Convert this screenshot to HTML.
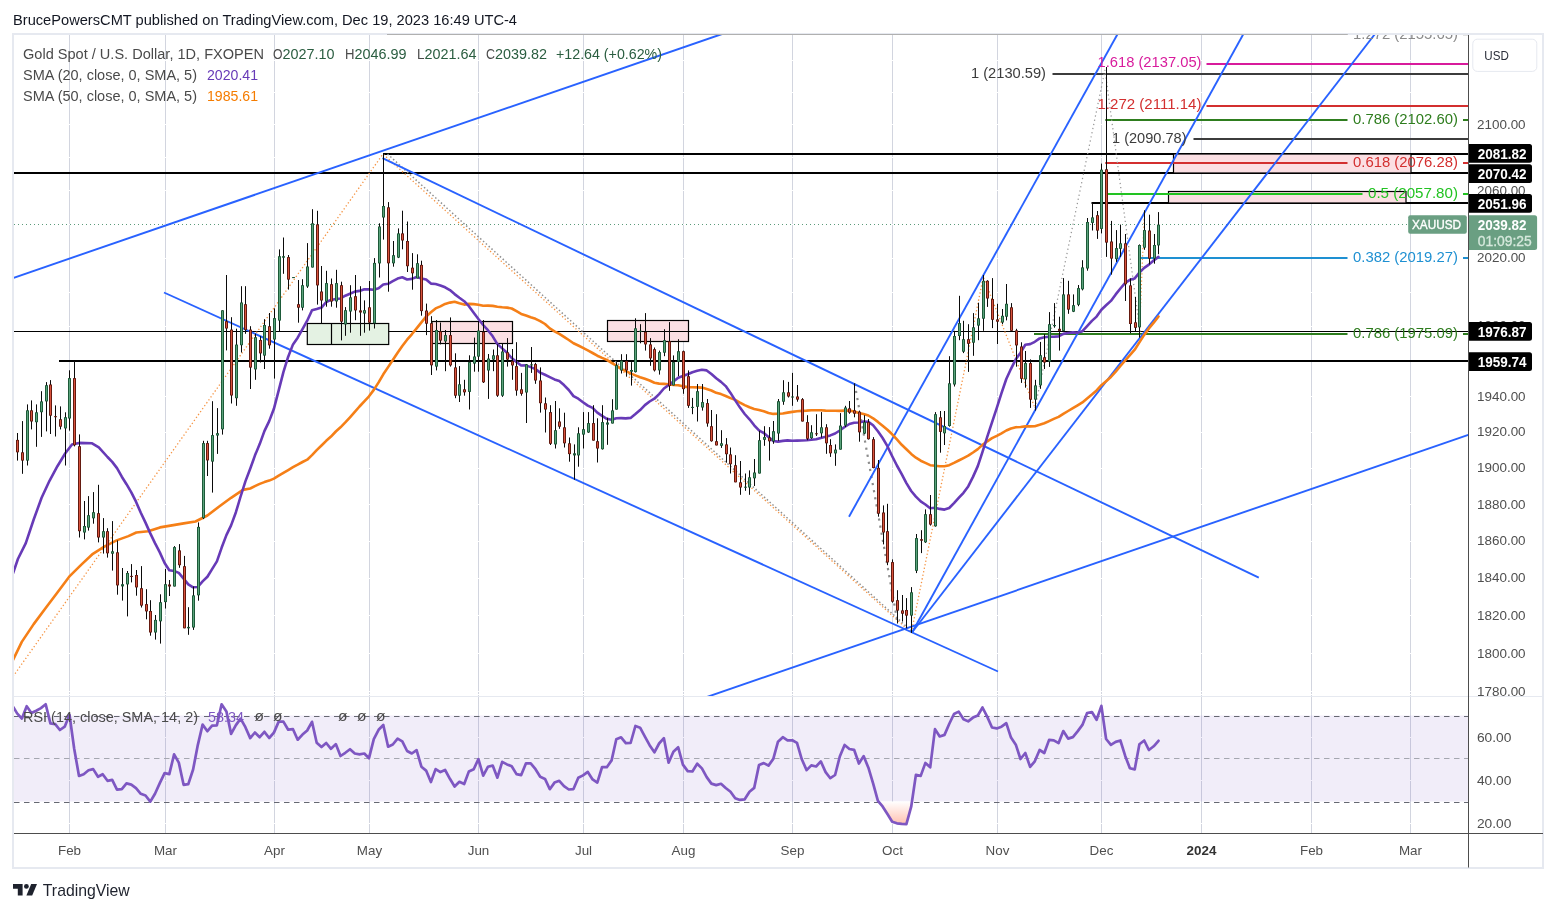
<!DOCTYPE html><html><head><meta charset="utf-8"><title>XAUUSD chart</title><style>html,body{margin:0;padding:0;background:#fff;}svg{will-change:transform;}body{width:1556px;height:912px;overflow:hidden;font-family:"Liberation Sans", sans-serif;}</style></head><body><svg width="1556" height="912" viewBox="0 0 1556 912" font-family='"Liberation Sans", sans-serif' style="display:block"><rect x="0" y="0" width="1556" height="912" fill="#ffffff"/>
<line x1="69.50" y1="35.00" x2="69.50" y2="833.00" stroke="#d2d5df" stroke-width="1" />
<line x1="165.50" y1="35.00" x2="165.50" y2="833.00" stroke="#d2d5df" stroke-width="1" />
<line x1="274.50" y1="35.00" x2="274.50" y2="833.00" stroke="#d2d5df" stroke-width="1" />
<line x1="369.50" y1="35.00" x2="369.50" y2="833.00" stroke="#d2d5df" stroke-width="1" />
<line x1="478.50" y1="35.00" x2="478.50" y2="833.00" stroke="#d2d5df" stroke-width="1" />
<line x1="583.50" y1="35.00" x2="583.50" y2="833.00" stroke="#d2d5df" stroke-width="1" />
<line x1="683.50" y1="35.00" x2="683.50" y2="833.00" stroke="#d2d5df" stroke-width="1" />
<line x1="792.50" y1="35.00" x2="792.50" y2="833.00" stroke="#d2d5df" stroke-width="1" />
<line x1="892.50" y1="35.00" x2="892.50" y2="833.00" stroke="#d2d5df" stroke-width="1" />
<line x1="997.50" y1="35.00" x2="997.50" y2="833.00" stroke="#d2d5df" stroke-width="1" />
<line x1="1101.50" y1="35.00" x2="1101.50" y2="833.00" stroke="#d2d5df" stroke-width="1" />
<line x1="1201.50" y1="35.00" x2="1201.50" y2="833.00" stroke="#d2d5df" stroke-width="1" />
<line x1="1311.50" y1="35.00" x2="1311.50" y2="833.00" stroke="#d2d5df" stroke-width="1" />
<line x1="1410.50" y1="35.00" x2="1410.50" y2="833.00" stroke="#d2d5df" stroke-width="1" />
<line x1="14.00" y1="691.50" x2="1468.00" y2="691.50" stroke="#ffffff" stroke-width="1" />
<line x1="14.00" y1="653.50" x2="1468.00" y2="653.50" stroke="#ffffff" stroke-width="1" />
<line x1="14.00" y1="615.50" x2="1468.00" y2="615.50" stroke="#ffffff" stroke-width="1" />
<line x1="14.00" y1="578.50" x2="1468.00" y2="578.50" stroke="#ffffff" stroke-width="1" />
<line x1="14.00" y1="541.50" x2="1468.00" y2="541.50" stroke="#ffffff" stroke-width="1" />
<line x1="14.00" y1="504.50" x2="1468.00" y2="504.50" stroke="#ffffff" stroke-width="1" />
<line x1="14.00" y1="468.50" x2="1468.00" y2="468.50" stroke="#ffffff" stroke-width="1" />
<line x1="14.00" y1="432.50" x2="1468.00" y2="432.50" stroke="#ffffff" stroke-width="1" />
<line x1="14.00" y1="396.50" x2="1468.00" y2="396.50" stroke="#ffffff" stroke-width="1" />
<line x1="14.00" y1="361.50" x2="1468.00" y2="361.50" stroke="#ffffff" stroke-width="1" />
<line x1="14.00" y1="326.50" x2="1468.00" y2="326.50" stroke="#ffffff" stroke-width="1" />
<line x1="14.00" y1="292.50" x2="1468.00" y2="292.50" stroke="#ffffff" stroke-width="1" />
<line x1="14.00" y1="258.50" x2="1468.00" y2="258.50" stroke="#ffffff" stroke-width="1" />
<line x1="14.00" y1="224.50" x2="1468.00" y2="224.50" stroke="#ffffff" stroke-width="1" />
<line x1="14.00" y1="190.50" x2="1468.00" y2="190.50" stroke="#ffffff" stroke-width="1" />
<line x1="14.00" y1="157.50" x2="1468.00" y2="157.50" stroke="#ffffff" stroke-width="1" />
<line x1="14.00" y1="124.50" x2="1468.00" y2="124.50" stroke="#ffffff" stroke-width="1" />
<line x1="14.00" y1="92.50" x2="1468.00" y2="92.50" stroke="#ffffff" stroke-width="1" />
<line x1="14.00" y1="60.50" x2="1468.00" y2="60.50" stroke="#ffffff" stroke-width="1" />
<line x1="14.00" y1="823.50" x2="1468.00" y2="823.50" stroke="#ffffff" stroke-width="1" />
<line x1="14.00" y1="780.50" x2="1468.00" y2="780.50" stroke="#ffffff" stroke-width="1" />
<line x1="14.00" y1="737.50" x2="1468.00" y2="737.50" stroke="#ffffff" stroke-width="1" />
<line x1="14.00" y1="694.50" x2="1468.00" y2="694.50" stroke="#ffffff" stroke-width="1" />
<rect x="14.00" y="715.50" width="1454.00" height="86.00" fill="rgba(126,87,194,0.105)" />
<defs><clipPath id="mainclip"><rect x="14" y="34" width="1455" height="662"/></clipPath><clipPath id="rsiclip"><rect x="14" y="697" width="1455" height="136"/></clipPath></defs>
<g clip-path="url(#mainclip)">
<line x1="14.00" y1="224.50" x2="1408.00" y2="224.50" stroke="#5b9a7a" stroke-width="1" stroke-dasharray="1 3"/>
<rect x="432.00" y="321.50" width="80.50" height="22.00" fill="#fbdfe3" stroke="#000" stroke-width="1.2" />
<rect x="607.50" y="320.50" width="81.00" height="21.00" fill="#fbdfe3" stroke="#000" stroke-width="1.2" />
<line x1="383.00" y1="154.00" x2="1468.00" y2="154.00" stroke="#000" stroke-width="1.8" />
<line x1="13.00" y1="173.00" x2="1468.00" y2="173.00" stroke="#000" stroke-width="2" />
<line x1="1091.50" y1="203.00" x2="1468.00" y2="203.00" stroke="#000" stroke-width="2" />
<line x1="13.00" y1="331.50" x2="1468.00" y2="331.50" stroke="#000" stroke-width="1.2" />
<line x1="59.00" y1="361.00" x2="1468.00" y2="361.00" stroke="#000" stroke-width="2.2" />
<rect x="1173.50" y="154.00" width="237.50" height="19.00" fill="#fbdfe3" stroke="#000" stroke-width="1.2" />
<rect x="1168.50" y="191.50" width="237.50" height="11.50" fill="#fbdfe3" stroke="#000" stroke-width="1.2" />
<rect x="307.30" y="323.50" width="81.40" height="21.00" fill="#e4f2e3" stroke="#000" stroke-width="1.2" />
<line x1="331.50" y1="323.50" x2="331.50" y2="344.50" stroke="#000" stroke-width="1.2" />
<line x1="1463.00" y1="34.50" x2="1468.00" y2="34.50" stroke="#8a8a8a" stroke-width="1.5" />
<line x1="1206.50" y1="64.00" x2="1468.00" y2="64.00" stroke="#d81b9c" stroke-width="2" />
<line x1="1052.50" y1="74.00" x2="1468.00" y2="74.00" stroke="#3c3c3c" stroke-width="2" />
<line x1="1206.50" y1="106.00" x2="1468.00" y2="106.00" stroke="#d32f2f" stroke-width="2" />
<line x1="1105.30" y1="120.00" x2="1347.50" y2="120.00" stroke="#2e7d1e" stroke-width="2" />
<line x1="1463.00" y1="120.00" x2="1468.00" y2="120.00" stroke="#2e7d1e" stroke-width="2" />
<line x1="1193.50" y1="139.00" x2="1468.00" y2="139.00" stroke="#3c3c3c" stroke-width="2" />
<line x1="1105.30" y1="163.00" x2="1347.50" y2="163.00" stroke="#d32f2f" stroke-width="2" />
<line x1="1463.00" y1="163.00" x2="1468.00" y2="163.00" stroke="#d32f2f" stroke-width="2" />
<line x1="1108.00" y1="194.00" x2="1362.50" y2="194.00" stroke="#22c322" stroke-width="2" />
<line x1="1463.00" y1="194.00" x2="1468.00" y2="194.00" stroke="#22c322" stroke-width="2" />
<line x1="1141.00" y1="258.00" x2="1347.50" y2="258.00" stroke="#1e90d2" stroke-width="2" />
<line x1="1463.00" y1="258.00" x2="1468.00" y2="258.00" stroke="#1e90d2" stroke-width="2" />
<line x1="1034.00" y1="334.00" x2="1347.50" y2="334.00" stroke="#2e7d1e" stroke-width="2" />
<line x1="1463.00" y1="334.00" x2="1468.00" y2="334.00" stroke="#2e7d1e" stroke-width="2" />
<path d="M13.0 676.5 L383.0 154.0 L911.3 632.8 L983.3 277.0 L1035.0 408.0" fill="none" stroke="#f59342" stroke-width="1.3" stroke-dasharray="1.3 2.3"/>
<path d="M387.5 154.0 L912.8 632.3" fill="none" stroke="#8f8f8f" stroke-width="1.5" stroke-dasharray="1.5 2.3"/>
<path d="M1035.0 408.0 L1105.0 70.0 L1140.5 335.0" fill="none" stroke="#979797" stroke-width="1.25" stroke-dasharray="1.25 3"/>
<path d="M1139.5 332.0 L1144.5 210.0" fill="none" stroke="#f59342" stroke-width="1.2" stroke-dasharray="1.2 2.4"/>
<path d="M854.7 383.8 L897.5 622.0" fill="none" stroke="#8c8c8c" stroke-width="2.2" stroke-dasharray="2.2 5"/>
<line x1="13.00" y1="278.00" x2="722.00" y2="34.00" stroke="#2962ff" stroke-width="1.9" />
<line x1="382.50" y1="158.20" x2="1258.80" y2="577.70" stroke="#2962ff" stroke-width="1.9" />
<line x1="164.00" y1="292.50" x2="998.00" y2="671.50" stroke="#2962ff" stroke-width="1.9" />
<line x1="704.00" y1="697.96" x2="1468.30" y2="434.90" stroke="#2962ff" stroke-width="1.9" />
<line x1="849.00" y1="516.70" x2="1117.60" y2="34.00" stroke="#2962ff" stroke-width="1.9" />
<line x1="912.30" y1="632.00" x2="1243.40" y2="34.00" stroke="#2962ff" stroke-width="1.9" />
<line x1="912.30" y1="632.00" x2="1375.00" y2="34.00" stroke="#2962ff" stroke-width="1.9" />
<path d="M13.2 659.6 L21.8 641.9 L33.7 624.1 L45.5 608.3 L57.4 592.5 L69.2 576.7 L81.1 564.9 L92.9 553.8 L104.7 546.3 L116.6 540.4 L128.4 536.1 L136.3 532.5 L148.2 531.3 L160.0 527.4 L171.9 525.4 L183.7 523.4 L195.5 521.5 L207.4 515.5 L219.2 506.5 L231.1 497.8 L242.9 489.9 L250.2 488.5 L254.9 486.1 L259.7 483.9 L264.4 482.1 L269.2 480.6 L273.9 478.6 L278.7 475.6 L283.4 472.9 L288.2 470.1 L293.0 467.2 L297.7 464.7 L302.5 462.0 L307.2 459.7 L312.0 455.1 L316.7 450.1 L321.5 445.5 L326.2 440.8 L331.0 436.6 L335.8 431.5 L340.5 427.3 L345.3 422.4 L350.0 417.3 L354.8 411.9 L359.5 406.5 L364.3 401.3 L369.0 396.3 L373.8 389.9 L378.6 382.4 L383.3 374.3 L388.1 367.1 L392.8 360.0 L397.6 352.7 L402.3 346.0 L407.1 339.7 L411.8 334.3 L416.6 328.4 L421.4 322.4 L426.1 316.6 L430.9 312.2 L435.6 308.4 L440.4 306.4 L445.1 303.9 L449.9 302.6 L454.6 301.8 L459.4 303.3 L464.2 304.6 L468.9 303.9 L473.7 304.1 L478.4 304.7 L483.2 305.7 L487.9 305.6 L492.7 305.9 L497.4 306.7 L502.2 307.3 L507.0 307.6 L511.7 308.5 L516.5 311.2 L521.2 313.9 L526.0 315.6 L530.7 317.3 L535.5 318.8 L540.2 321.1 L545.0 324.0 L549.8 328.4 L554.5 331.3 L559.3 333.8 L564.0 336.9 L568.8 340.0 L573.5 343.3 L578.3 345.5 L583.0 347.9 L587.8 350.4 L592.6 353.0 L597.3 355.7 L602.1 357.9 L606.8 359.9 L611.6 362.9 L616.3 365.7 L621.1 368.9 L625.8 371.1 L630.6 373.4 L635.4 375.4 L640.1 377.2 L644.9 378.8 L649.6 380.5 L654.4 382.7 L659.1 383.6 L663.9 383.9 L668.6 384.3 L673.4 385.0 L678.2 385.2 L682.9 386.3 L687.7 387.1 L692.4 387.3 L697.2 387.4 L701.9 387.6 L706.7 388.9 L711.4 390.5 L716.2 392.8 L721.0 394.1 L725.7 396.0 L730.5 398.1 L735.2 399.9 L740.0 402.6 L744.7 405.1 L749.5 407.3 L754.2 408.9 L759.0 409.9 L763.8 411.3 L768.5 412.9 L773.3 413.9 L778.0 413.8 L782.8 413.5 L787.5 412.6 L792.3 411.9 L797.0 411.3 L801.8 410.9 L806.6 410.6 L811.3 410.2 L816.1 410.2 L820.8 410.2 L825.6 410.6 L830.3 410.8 L835.1 410.8 L839.8 410.9 L844.6 410.6 L849.4 410.6 L854.1 411.6 L858.9 413.1 L863.6 414.1 L868.4 415.5 L873.1 418.3 L877.9 421.9 L882.6 425.7 L887.4 429.7 L892.2 434.3 L896.9 439.4 L901.7 444.8 L906.4 449.3 L911.2 453.9 L915.9 457.7 L920.7 460.7 L925.4 462.9 L930.2 465.2 L935.0 465.7 L939.7 466.3 L944.5 466.3 L949.2 465.2 L954.0 462.9 L958.7 460.5 L963.5 458.1 L968.2 455.7 L973.0 452.5 L977.8 449.1 L982.5 444.9 L987.3 441.3 L992.0 438.2 L996.8 435.8 L1001.5 433.3 L1006.3 430.5 L1011.0 428.5 L1015.8 427.3 L1020.5 427.0 L1025.3 426.4 L1030.1 426.4 L1034.8 426.2 L1039.6 424.8 L1044.3 423.3 L1049.1 421.1 L1053.8 418.9 L1058.6 416.9 L1063.3 413.9 L1068.1 411.0 L1072.9 408.1 L1077.6 405.3 L1082.4 402.4 L1087.1 398.5 L1091.9 394.5 L1096.6 390.4 L1101.4 385.2 L1106.1 381.2 L1110.9 377.0 L1115.7 371.7 L1120.4 366.0 L1125.2 360.5 L1129.9 355.1 L1134.7 349.7 L1139.4 342.4 L1144.2 334.9 L1148.9 328.4 L1153.7 322.7 L1158.5 316.5" fill="none" stroke="#f57f17" stroke-width="2.6" stroke-linejoin="round" stroke-linecap="round"/>
<path d="M13.2 572.8 L17.9 559.0 L25.8 543.2 L33.7 519.5 L41.6 497.8 L49.5 480.8 L57.4 466.2 L65.3 453.2 L72.0 444.5 L79.1 442.9 L92.1 443.3 L98.8 447.3 L107.5 457.0 L112.2 461.9 L117.0 468.1 L121.8 476.7 L126.5 484.2 L131.3 492.4 L136.0 501.7 L140.8 512.8 L145.5 522.6 L150.3 533.4 L155.0 543.1 L159.8 552.4 L164.6 563.0 L169.3 570.2 L174.1 571.0 L178.8 572.9 L183.6 578.6 L188.3 584.3 L193.1 587.3 L197.8 587.0 L202.6 581.4 L207.4 576.8 L212.1 569.1 L216.9 561.4 L221.6 547.8 L226.4 535.1 L231.1 525.4 L235.9 512.2 L240.6 496.5 L245.4 481.4 L250.2 468.8 L254.9 455.6 L259.7 444.1 L264.4 431.1 L269.2 421.1 L273.9 408.8 L278.7 390.4 L283.4 372.2 L288.2 356.7 L293.0 344.4 L297.7 337.7 L302.5 329.1 L307.2 320.7 L312.0 310.2 L316.7 309.0 L321.5 307.6 L326.2 302.0 L331.0 299.9 L335.8 298.9 L340.5 298.5 L345.3 295.7 L350.0 293.7 L354.8 291.6 L359.5 290.9 L364.3 289.2 L369.0 289.4 L373.8 289.8 L378.6 288.3 L383.3 284.5 L388.1 283.8 L392.8 281.2 L397.6 278.6 L402.3 277.3 L407.1 279.5 L411.8 278.9 L416.6 277.0 L421.4 278.4 L426.1 279.5 L430.9 283.6 L435.6 284.0 L440.4 285.5 L445.1 287.3 L449.9 290.1 L454.6 294.1 L459.4 297.8 L464.2 301.2 L468.9 306.2 L473.7 312.7 L478.4 319.0 L483.2 325.0 L487.9 330.2 L492.7 336.3 L497.4 344.1 L502.2 348.4 L507.0 352.8 L511.7 358.0 L516.5 362.0 L521.2 365.5 L526.0 365.4 L530.7 367.1 L535.5 369.1 L540.2 372.6 L545.0 374.8 L549.8 377.1 L554.5 379.4 L559.3 381.1 L564.0 385.1 L568.8 390.0 L573.5 396.1 L578.3 398.7 L583.0 402.2 L587.8 405.6 L592.6 407.9 L597.3 412.7 L602.1 415.9 L606.8 418.8 L611.6 419.8 L616.3 418.3 L621.1 418.1 L625.8 418.4 L630.6 417.9 L635.4 414.1 L640.1 410.1 L644.9 405.1 L649.6 401.5 L654.4 398.7 L659.1 394.1 L663.9 388.5 L668.6 385.1 L673.4 381.6 L678.2 377.7 L682.9 376.0 L687.7 374.3 L692.4 372.2 L697.2 370.7 L701.9 369.7 L706.7 370.4 L711.4 374.1 L716.2 378.3 L721.0 381.9 L725.7 386.1 L730.5 392.9 L735.2 400.4 L740.0 407.6 L744.7 414.0 L749.5 419.3 L754.2 425.3 L759.0 430.4 L763.8 433.0 L768.5 437.0 L773.3 441.0 L778.0 441.6 L782.8 440.9 L787.5 440.4 L792.3 440.7 L797.0 440.6 L801.8 440.5 L806.6 440.3 L811.3 439.7 L816.1 439.2 L820.8 437.9 L825.6 436.8 L830.3 435.4 L835.1 433.5 L839.8 430.5 L844.6 427.0 L849.4 424.0 L854.1 422.7 L858.9 422.5 L863.6 421.5 L868.4 421.9 L873.1 425.2 L877.9 431.3 L882.6 438.0 L887.4 446.2 L892.2 456.2 L896.9 465.5 L901.7 474.1 L906.4 483.1 L911.2 491.0 L915.9 496.6 L920.7 501.4 L925.4 504.5 L930.2 508.3 L935.0 507.7 L939.7 508.9 L944.5 509.6 L949.2 508.0 L954.0 503.1 L958.7 497.9 L963.5 492.8 L968.2 486.4 L973.0 476.9 L977.8 466.1 L982.5 451.8 L987.3 436.7 L992.0 422.3 L996.8 407.9 L1001.5 393.2 L1006.3 379.0 L1011.0 368.8 L1015.8 359.3 L1020.5 352.7 L1025.3 344.8 L1030.1 344.1 L1034.8 341.8 L1039.6 338.4 L1044.3 337.3 L1049.1 336.7 L1053.8 336.8 L1058.6 336.4 L1063.3 333.9 L1068.1 333.0 L1072.9 332.4 L1077.6 332.7 L1082.4 331.2 L1087.1 326.2 L1091.9 320.9 L1096.6 316.6 L1101.4 309.7 L1106.1 305.3 L1110.9 300.9 L1115.7 294.4 L1120.4 288.5 L1125.2 282.8 L1129.9 279.8 L1134.7 278.4 L1139.4 272.6 L1144.2 267.9 L1148.9 264.6 L1153.7 260.4 L1158.5 256.9" fill="none" stroke="#673ab7" stroke-width="2.6" stroke-linejoin="round" stroke-linecap="round"/>
<line x1="13.50" y1="431.00" x2="13.50" y2="440.00" stroke="#cfa8a2" stroke-width="1" />
<path d="M17.5 433.0V460.6" stroke="#0a0a0a" stroke-width="1"/>
<rect x="16.0" y="439.9" width="3" height="12.4" fill="#641a10"/>
<rect x="17.0" y="440.7" width="1" height="10.8" fill="#d9533d"/>
<path d="M22.5 421.1V473.8" stroke="#0a0a0a" stroke-width="1"/>
<rect x="21.0" y="452.3" width="3" height="8.3" fill="#641a10"/>
<rect x="22.0" y="453.1" width="1" height="6.7" fill="#d9533d"/>
<path d="M27.5 404.4V465.5" stroke="#0a0a0a" stroke-width="1"/>
<rect x="26.0" y="410.3" width="3" height="50.3" fill="#1d5a39"/>
<rect x="27.0" y="411.1" width="1" height="48.7" fill="#5aa37b"/>
<path d="M31.5 400.4V429.4" stroke="#0a0a0a" stroke-width="1"/>
<rect x="30.0" y="410.3" width="3" height="11.2" fill="#641a10"/>
<rect x="31.0" y="411.1" width="1" height="9.6" fill="#d9533d"/>
<path d="M36.5 404.4V446.8" stroke="#0a0a0a" stroke-width="1"/>
<rect x="35.0" y="412.3" width="3" height="9.9" fill="#1d5a39"/>
<rect x="36.0" y="413.1" width="1" height="8.3" fill="#5aa37b"/>
<path d="M41.5 391.2V436.9" stroke="#0a0a0a" stroke-width="1"/>
<rect x="40.0" y="401.4" width="3" height="10.8" fill="#1d5a39"/>
<rect x="41.0" y="402.2" width="1" height="9.2" fill="#5aa37b"/>
<path d="M46.5 382.1V431.4" stroke="#0a0a0a" stroke-width="1"/>
<rect x="45.0" y="385.2" width="3" height="16.2" fill="#1d5a39"/>
<rect x="46.0" y="386.0" width="1" height="14.6" fill="#5aa37b"/>
<path d="M50.5 380.1V434.0" stroke="#0a0a0a" stroke-width="1"/>
<rect x="49.0" y="384.5" width="3" height="31.2" fill="#641a10"/>
<rect x="50.0" y="385.3" width="1" height="29.6" fill="#d9533d"/>
<path d="M55.5 405.4V436.5" stroke="#0a0a0a" stroke-width="1"/>
<rect x="54.0" y="416.2" width="3" height="1.0" fill="#641a10"/>
<path d="M60.5 406.4V429.4" stroke="#0a0a0a" stroke-width="1"/>
<rect x="59.0" y="419.2" width="3" height="7.5" fill="#641a10"/>
<rect x="60.0" y="420.0" width="1" height="5.9" fill="#d9533d"/>
<path d="M65.5 412.3V465.5" stroke="#0a0a0a" stroke-width="1"/>
<rect x="64.0" y="417.2" width="3" height="11.2" fill="#1d5a39"/>
<rect x="65.0" y="418.0" width="1" height="9.6" fill="#5aa37b"/>
<path d="M69.5 370.3V430.6" stroke="#0a0a0a" stroke-width="1"/>
<rect x="68.0" y="378.1" width="3" height="40.4" fill="#1d5a39"/>
<rect x="69.0" y="378.9" width="1" height="38.8" fill="#5aa37b"/>
<path d="M74.5 361.0V446.4" stroke="#0a0a0a" stroke-width="1"/>
<rect x="73.0" y="378.1" width="3" height="67.1" fill="#641a10"/>
<rect x="74.0" y="378.9" width="1" height="65.5" fill="#d9533d"/>
<path d="M79.5 434.4V537.5" stroke="#0a0a0a" stroke-width="1"/>
<rect x="78.0" y="446.2" width="3" height="85.0" fill="#641a10"/>
<rect x="79.0" y="447.0" width="1" height="83.4" fill="#d9533d"/>
<path d="M84.5 501.0V539.4" stroke="#0a0a0a" stroke-width="1"/>
<rect x="83.0" y="526.0" width="3" height="6.5" fill="#1d5a39"/>
<rect x="84.0" y="526.8" width="1" height="4.9" fill="#5aa37b"/>
<path d="M88.5 496.1V530.6" stroke="#0a0a0a" stroke-width="1"/>
<rect x="87.0" y="515.2" width="3" height="12.4" fill="#1d5a39"/>
<rect x="88.0" y="516.0" width="1" height="10.8" fill="#5aa37b"/>
<path d="M93.5 492.1V523.7" stroke="#0a0a0a" stroke-width="1"/>
<rect x="92.0" y="512.2" width="3" height="6.1" fill="#1d5a39"/>
<rect x="93.0" y="513.0" width="1" height="4.5" fill="#5aa37b"/>
<path d="M98.5 484.8V542.4" stroke="#0a0a0a" stroke-width="1"/>
<rect x="97.0" y="513.2" width="3" height="24.3" fill="#641a10"/>
<rect x="98.0" y="514.0" width="1" height="22.7" fill="#d9533d"/>
<path d="M103.5 518.1V553.6" stroke="#0a0a0a" stroke-width="1"/>
<rect x="102.0" y="531.2" width="3" height="6.3" fill="#1d5a39"/>
<rect x="103.0" y="532.0" width="1" height="4.7" fill="#5aa37b"/>
<path d="M107.5 528.2V557.6" stroke="#0a0a0a" stroke-width="1"/>
<rect x="106.0" y="531.2" width="3" height="22.1" fill="#641a10"/>
<rect x="107.0" y="532.0" width="1" height="20.5" fill="#d9533d"/>
<path d="M112.5 521.1V570.6" stroke="#0a0a0a" stroke-width="1"/>
<rect x="111.0" y="551.3" width="3" height="2.4" fill="#1d5a39"/>
<rect x="112.0" y="552.1" width="1" height="0.8" fill="#5aa37b"/>
<path d="M117.5 540.4V594.7" stroke="#0a0a0a" stroke-width="1"/>
<rect x="116.0" y="552.3" width="3" height="33.1" fill="#641a10"/>
<rect x="117.0" y="553.1" width="1" height="31.5" fill="#d9533d"/>
<path d="M122.5 568.0V600.6" stroke="#0a0a0a" stroke-width="1"/>
<rect x="121.0" y="584.2" width="3" height="2.2" fill="#1d5a39"/>
<path d="M127.5 571.0V616.4" stroke="#0a0a0a" stroke-width="1"/>
<rect x="126.0" y="573.0" width="3" height="11.4" fill="#1d5a39"/>
<rect x="127.0" y="573.8" width="1" height="9.8" fill="#5aa37b"/>
<path d="M131.5 564.1V582.4" stroke="#0a0a0a" stroke-width="1"/>
<rect x="130.0" y="575.9" width="3" height="1.0" fill="#641a10"/>
<path d="M136.5 570.0V595.7" stroke="#0a0a0a" stroke-width="1"/>
<rect x="135.0" y="575.0" width="3" height="12.4" fill="#641a10"/>
<rect x="136.0" y="575.8" width="1" height="10.8" fill="#d9533d"/>
<path d="M141.5 566.1V607.5" stroke="#0a0a0a" stroke-width="1"/>
<rect x="140.0" y="588.2" width="3" height="17.4" fill="#641a10"/>
<rect x="141.0" y="589.0" width="1" height="15.8" fill="#d9533d"/>
<path d="M146.5 589.2V619.3" stroke="#0a0a0a" stroke-width="1"/>
<rect x="145.0" y="604.1" width="3" height="7.3" fill="#641a10"/>
<rect x="146.0" y="604.9" width="1" height="5.7" fill="#d9533d"/>
<path d="M150.5 600.2V635.7" stroke="#0a0a0a" stroke-width="1"/>
<rect x="149.0" y="611.0" width="3" height="21.5" fill="#641a10"/>
<rect x="150.0" y="611.8" width="1" height="19.9" fill="#d9533d"/>
<path d="M155.5 615.0V639.6" stroke="#0a0a0a" stroke-width="1"/>
<rect x="154.0" y="619.9" width="3" height="12.6" fill="#1d5a39"/>
<rect x="155.0" y="620.7" width="1" height="11.0" fill="#5aa37b"/>
<path d="M160.5 594.3V643.6" stroke="#0a0a0a" stroke-width="1"/>
<rect x="159.0" y="602.2" width="3" height="19.1" fill="#1d5a39"/>
<rect x="160.0" y="603.0" width="1" height="17.5" fill="#5aa37b"/>
<path d="M165.5 569.0V608.5" stroke="#0a0a0a" stroke-width="1"/>
<rect x="164.0" y="584.2" width="3" height="17.9" fill="#1d5a39"/>
<rect x="165.0" y="585.0" width="1" height="16.3" fill="#5aa37b"/>
<path d="M169.5 580.0V596.0" stroke="#0a0a0a" stroke-width="1"/>
<rect x="168.0" y="584.5" width="3" height="2.0" fill="#641a10"/>
<path d="M174.5 546.1V586.5" stroke="#0a0a0a" stroke-width="1"/>
<rect x="173.0" y="547.1" width="3" height="39.4" fill="#1d5a39"/>
<rect x="174.0" y="547.9" width="1" height="37.8" fill="#5aa37b"/>
<path d="M179.5 544.1V567.8" stroke="#0a0a0a" stroke-width="1"/>
<rect x="178.0" y="550.4" width="3" height="14.8" fill="#641a10"/>
<rect x="179.0" y="551.2" width="1" height="13.2" fill="#d9533d"/>
<path d="M184.5 555.9V628.3" stroke="#0a0a0a" stroke-width="1"/>
<rect x="183.0" y="566.2" width="3" height="62.1" fill="#641a10"/>
<rect x="184.0" y="567.0" width="1" height="60.5" fill="#d9533d"/>
<path d="M188.5 607.2V634.8" stroke="#0a0a0a" stroke-width="1"/>
<rect x="187.0" y="626.9" width="3" height="1.4" fill="#1d5a39"/>
<path d="M193.5 586.5V629.9" stroke="#0a0a0a" stroke-width="1"/>
<rect x="192.0" y="595.4" width="3" height="32.1" fill="#1d5a39"/>
<rect x="193.0" y="596.2" width="1" height="30.5" fill="#5aa37b"/>
<path d="M198.5 522.4V600.7" stroke="#0a0a0a" stroke-width="1"/>
<rect x="197.0" y="526.9" width="3" height="68.4" fill="#1d5a39"/>
<rect x="198.0" y="527.7" width="1" height="66.8" fill="#5aa37b"/>
<path d="M203.5 440.8V519.1" stroke="#0a0a0a" stroke-width="1"/>
<rect x="202.0" y="443.1" width="3" height="75.0" fill="#1d5a39"/>
<rect x="203.0" y="443.9" width="1" height="73.4" fill="#5aa37b"/>
<path d="M207.5 440.8V476.0" stroke="#0a0a0a" stroke-width="1"/>
<rect x="206.0" y="443.1" width="3" height="17.3" fill="#641a10"/>
<rect x="207.0" y="443.9" width="1" height="15.7" fill="#d9533d"/>
<path d="M212.5 401.2V492.6" stroke="#0a0a0a" stroke-width="1"/>
<rect x="211.0" y="435.1" width="3" height="26.5" fill="#1d5a39"/>
<rect x="212.0" y="435.9" width="1" height="24.9" fill="#5aa37b"/>
<path d="M217.5 408.1V453.9" stroke="#0a0a0a" stroke-width="1"/>
<rect x="216.0" y="433.2" width="3" height="2.3" fill="#1d5a39"/>
<rect x="217.0" y="434.0" width="1" height="0.7" fill="#5aa37b"/>
<path d="M222.5 310.3V434.6" stroke="#0a0a0a" stroke-width="1"/>
<rect x="221.0" y="310.3" width="3" height="119.0" fill="#1d5a39"/>
<rect x="222.0" y="311.1" width="1" height="117.4" fill="#5aa37b"/>
<path d="M226.5 275.0V350.4" stroke="#0a0a0a" stroke-width="1"/>
<rect x="225.0" y="321.2" width="3" height="7.3" fill="#641a10"/>
<rect x="226.0" y="322.1" width="1" height="5.7" fill="#d9533d"/>
<path d="M231.5 317.2V403.5" stroke="#0a0a0a" stroke-width="1"/>
<rect x="230.0" y="329.6" width="3" height="65.9" fill="#641a10"/>
<rect x="231.0" y="330.4" width="1" height="64.3" fill="#d9533d"/>
<path d="M236.5 328.7V405.8" stroke="#0a0a0a" stroke-width="1"/>
<rect x="235.0" y="344.6" width="3" height="53.6" fill="#1d5a39"/>
<rect x="236.0" y="345.4" width="1" height="52.0" fill="#5aa37b"/>
<path d="M241.5 286.2V352.5" stroke="#0a0a0a" stroke-width="1"/>
<rect x="240.0" y="302.5" width="3" height="42.7" fill="#1d5a39"/>
<rect x="241.0" y="303.3" width="1" height="41.1" fill="#5aa37b"/>
<path d="M245.5 286.2V333.8" stroke="#0a0a0a" stroke-width="1"/>
<rect x="244.0" y="304.2" width="3" height="25.8" fill="#641a10"/>
<rect x="245.0" y="305.0" width="1" height="24.2" fill="#d9533d"/>
<path d="M250.5 326.2V389.0" stroke="#0a0a0a" stroke-width="1"/>
<rect x="249.0" y="329.6" width="3" height="38.0" fill="#641a10"/>
<rect x="250.0" y="330.4" width="1" height="36.4" fill="#d9533d"/>
<path d="M255.5 333.7V379.8" stroke="#0a0a0a" stroke-width="1"/>
<rect x="254.0" y="337.2" width="3" height="32.2" fill="#1d5a39"/>
<rect x="255.0" y="338.0" width="1" height="30.6" fill="#5aa37b"/>
<path d="M260.5 336.1V362.5" stroke="#0a0a0a" stroke-width="1"/>
<rect x="259.0" y="340.0" width="3" height="13.4" fill="#641a10"/>
<rect x="260.0" y="340.8" width="1" height="11.8" fill="#d9533d"/>
<path d="M264.5 319.2V369.0" stroke="#0a0a0a" stroke-width="1"/>
<rect x="263.0" y="325.0" width="3" height="30.6" fill="#1d5a39"/>
<rect x="264.0" y="325.8" width="1" height="29.0" fill="#5aa37b"/>
<path d="M269.5 313.0V348.7" stroke="#0a0a0a" stroke-width="1"/>
<rect x="268.0" y="326.2" width="3" height="19.1" fill="#641a10"/>
<rect x="269.0" y="327.0" width="1" height="17.5" fill="#d9533d"/>
<path d="M274.5 308.4V378.6" stroke="#0a0a0a" stroke-width="1"/>
<rect x="273.0" y="318.1" width="3" height="21.4" fill="#1d5a39"/>
<rect x="274.0" y="318.9" width="1" height="19.8" fill="#5aa37b"/>
<path d="M279.5 249.4V331.7" stroke="#0a0a0a" stroke-width="1"/>
<rect x="278.0" y="256.2" width="3" height="64.4" fill="#1d5a39"/>
<rect x="279.0" y="257.1" width="1" height="62.8" fill="#5aa37b"/>
<path d="M283.5 237.5V273.8" stroke="#0a0a0a" stroke-width="1"/>
<rect x="282.0" y="256.2" width="3" height="1.5" fill="#1d5a39"/>
<path d="M288.5 255.0V289.6" stroke="#0a0a0a" stroke-width="1"/>
<rect x="287.0" y="257.1" width="3" height="22.5" fill="#641a10"/>
<rect x="288.0" y="257.9" width="1" height="20.9" fill="#d9533d"/>
<path d="M293.5 277.1V277.9" stroke="#0a0a0a" stroke-width="1"/>
<rect x="292.0" y="277.1" width="3" height="1.0" fill="#1d5a39"/>
<path d="M298.5 280.0V322.7" stroke="#0a0a0a" stroke-width="1"/>
<rect x="297.0" y="304.2" width="3" height="3.5" fill="#641a10"/>
<rect x="298.0" y="305.0" width="1" height="1.9" fill="#d9533d"/>
<path d="M302.5 279.2V310.4" stroke="#0a0a0a" stroke-width="1"/>
<rect x="301.0" y="285.2" width="3" height="22.5" fill="#1d5a39"/>
<rect x="302.0" y="286.0" width="1" height="20.9" fill="#5aa37b"/>
<path d="M307.5 243.1V287.9" stroke="#0a0a0a" stroke-width="1"/>
<rect x="306.0" y="266.5" width="3" height="20.0" fill="#1d5a39"/>
<rect x="307.0" y="267.3" width="1" height="18.4" fill="#5aa37b"/>
<path d="M312.5 209.2V267.5" stroke="#0a0a0a" stroke-width="1"/>
<rect x="311.0" y="223.3" width="3" height="44.2" fill="#1d5a39"/>
<rect x="312.0" y="224.1" width="1" height="42.6" fill="#5aa37b"/>
<path d="M317.5 210.8V304.6" stroke="#0a0a0a" stroke-width="1"/>
<rect x="316.0" y="224.4" width="3" height="61.0" fill="#641a10"/>
<rect x="317.0" y="225.2" width="1" height="59.4" fill="#d9533d"/>
<path d="M321.5 266.0V323.3" stroke="#0a0a0a" stroke-width="1"/>
<rect x="320.0" y="291.5" width="3" height="9.0" fill="#641a10"/>
<rect x="321.0" y="292.3" width="1" height="7.4" fill="#d9533d"/>
<path d="M326.5 270.8V306.7" stroke="#0a0a0a" stroke-width="1"/>
<rect x="325.0" y="283.1" width="3" height="18.3" fill="#1d5a39"/>
<rect x="326.0" y="283.9" width="1" height="16.7" fill="#5aa37b"/>
<path d="M331.5 278.5V306.7" stroke="#0a0a0a" stroke-width="1"/>
<rect x="330.0" y="284.2" width="3" height="17.3" fill="#641a10"/>
<rect x="331.0" y="285.0" width="1" height="15.7" fill="#d9533d"/>
<path d="M336.5 269.8V307.7" stroke="#0a0a0a" stroke-width="1"/>
<rect x="335.0" y="283.1" width="3" height="18.3" fill="#1d5a39"/>
<rect x="336.0" y="283.9" width="1" height="16.7" fill="#5aa37b"/>
<path d="M341.5 281.7V340.4" stroke="#0a0a0a" stroke-width="1"/>
<rect x="340.0" y="285.2" width="3" height="36.5" fill="#641a10"/>
<rect x="341.0" y="286.0" width="1" height="34.9" fill="#d9533d"/>
<path d="M345.5 307.1V335.8" stroke="#0a0a0a" stroke-width="1"/>
<rect x="344.0" y="310.2" width="3" height="14.2" fill="#1d5a39"/>
<rect x="345.0" y="311.0" width="1" height="12.6" fill="#5aa37b"/>
<path d="M350.5 285.2V332.7" stroke="#0a0a0a" stroke-width="1"/>
<rect x="349.0" y="297.3" width="3" height="14.2" fill="#1d5a39"/>
<rect x="350.0" y="298.1" width="1" height="12.6" fill="#5aa37b"/>
<path d="M355.5 275.0V320.2" stroke="#0a0a0a" stroke-width="1"/>
<rect x="354.0" y="296.2" width="3" height="14.2" fill="#641a10"/>
<rect x="355.0" y="297.1" width="1" height="12.6" fill="#d9533d"/>
<path d="M360.5 286.2V335.8" stroke="#0a0a0a" stroke-width="1"/>
<rect x="359.0" y="310.4" width="3" height="2.1" fill="#641a10"/>
<path d="M364.5 300.4V332.7" stroke="#0a0a0a" stroke-width="1"/>
<rect x="363.0" y="310.2" width="3" height="3.3" fill="#1d5a39"/>
<rect x="364.0" y="311.0" width="1" height="1.7" fill="#5aa37b"/>
<path d="M369.5 281.0V330.6" stroke="#0a0a0a" stroke-width="1"/>
<rect x="368.0" y="307.3" width="3" height="15.4" fill="#641a10"/>
<rect x="369.0" y="308.1" width="1" height="13.8" fill="#d9533d"/>
<path d="M374.5 258.1V328.5" stroke="#0a0a0a" stroke-width="1"/>
<rect x="373.0" y="262.9" width="3" height="60.4" fill="#1d5a39"/>
<rect x="374.0" y="263.7" width="1" height="58.8" fill="#5aa37b"/>
<path d="M379.5 223.3V277.5" stroke="#0a0a0a" stroke-width="1"/>
<rect x="378.0" y="226.5" width="3" height="36.9" fill="#1d5a39"/>
<rect x="379.0" y="227.3" width="1" height="35.3" fill="#5aa37b"/>
<path d="M383.5 154.0V239.6" stroke="#0a0a0a" stroke-width="1"/>
<rect x="382.0" y="206.0" width="3" height="11.5" fill="#1d5a39"/>
<rect x="383.0" y="206.8" width="1" height="9.9" fill="#5aa37b"/>
<path d="M388.5 202.1V291.7" stroke="#0a0a0a" stroke-width="1"/>
<rect x="387.0" y="207.3" width="3" height="56.0" fill="#641a10"/>
<rect x="388.0" y="208.1" width="1" height="54.4" fill="#d9533d"/>
<path d="M393.5 241.0V266.7" stroke="#0a0a0a" stroke-width="1"/>
<rect x="392.0" y="255.2" width="3" height="8.1" fill="#1d5a39"/>
<rect x="393.0" y="256.0" width="1" height="6.5" fill="#5aa37b"/>
<path d="M398.5 228.4V258.1" stroke="#0a0a0a" stroke-width="1"/>
<rect x="397.0" y="233.4" width="3" height="24.2" fill="#1d5a39"/>
<rect x="398.0" y="234.2" width="1" height="22.6" fill="#5aa37b"/>
<path d="M402.5 210.7V249.3" stroke="#0a0a0a" stroke-width="1"/>
<rect x="401.0" y="233.4" width="3" height="7.1" fill="#641a10"/>
<rect x="402.0" y="234.2" width="1" height="5.5" fill="#d9533d"/>
<path d="M407.5 221.5V272.0" stroke="#0a0a0a" stroke-width="1"/>
<rect x="406.0" y="241.0" width="3" height="25.2" fill="#641a10"/>
<rect x="407.0" y="241.8" width="1" height="23.6" fill="#d9533d"/>
<path d="M412.5 253.1V289.7" stroke="#0a0a0a" stroke-width="1"/>
<rect x="411.0" y="267.7" width="3" height="5.6" fill="#641a10"/>
<rect x="412.0" y="268.5" width="1" height="4.0" fill="#d9533d"/>
<path d="M417.5 254.3V278.3" stroke="#0a0a0a" stroke-width="1"/>
<rect x="416.0" y="263.2" width="3" height="15.1" fill="#1d5a39"/>
<rect x="417.0" y="264.0" width="1" height="13.5" fill="#5aa37b"/>
<path d="M421.5 260.7V315.7" stroke="#0a0a0a" stroke-width="1"/>
<rect x="420.0" y="264.9" width="3" height="46.2" fill="#641a10"/>
<rect x="421.0" y="265.7" width="1" height="44.6" fill="#d9533d"/>
<path d="M426.5 303.6V335.1" stroke="#0a0a0a" stroke-width="1"/>
<rect x="425.0" y="310.6" width="3" height="13.1" fill="#641a10"/>
<rect x="426.0" y="311.4" width="1" height="11.5" fill="#d9533d"/>
<path d="M431.5 316.2V375.0" stroke="#0a0a0a" stroke-width="1"/>
<rect x="430.0" y="323.2" width="3" height="42.1" fill="#641a10"/>
<rect x="431.0" y="324.0" width="1" height="40.5" fill="#d9533d"/>
<path d="M436.5 320.0V370.4" stroke="#0a0a0a" stroke-width="1"/>
<rect x="435.0" y="330.0" width="3" height="36.6" fill="#1d5a39"/>
<rect x="436.0" y="330.8" width="1" height="35.0" fill="#5aa37b"/>
<path d="M440.5 322.5V344.4" stroke="#0a0a0a" stroke-width="1"/>
<rect x="439.0" y="331.3" width="3" height="9.3" fill="#641a10"/>
<rect x="440.0" y="332.1" width="1" height="7.7" fill="#d9533d"/>
<path d="M445.5 330.0V371.2" stroke="#0a0a0a" stroke-width="1"/>
<rect x="444.0" y="335.1" width="3" height="6.3" fill="#1d5a39"/>
<rect x="445.0" y="335.9" width="1" height="4.7" fill="#5aa37b"/>
<path d="M450.5 317.4V366.6" stroke="#0a0a0a" stroke-width="1"/>
<rect x="449.0" y="335.1" width="3" height="30.3" fill="#641a10"/>
<rect x="450.0" y="335.9" width="1" height="28.7" fill="#d9533d"/>
<path d="M455.5 353.3V398.2" stroke="#0a0a0a" stroke-width="1"/>
<rect x="454.0" y="367.4" width="3" height="28.3" fill="#641a10"/>
<rect x="455.0" y="368.2" width="1" height="26.7" fill="#d9533d"/>
<path d="M459.5 366.1V402.0" stroke="#0a0a0a" stroke-width="1"/>
<rect x="458.0" y="384.3" width="3" height="11.4" fill="#1d5a39"/>
<rect x="459.0" y="385.1" width="1" height="9.8" fill="#5aa37b"/>
<path d="M464.5 379.8V395.7" stroke="#0a0a0a" stroke-width="1"/>
<rect x="463.0" y="389.3" width="3" height="3.0" fill="#641a10"/>
<rect x="464.0" y="390.1" width="1" height="1.4" fill="#d9533d"/>
<path d="M469.5 355.3V409.5" stroke="#0a0a0a" stroke-width="1"/>
<rect x="468.0" y="362.1" width="3" height="29.8" fill="#1d5a39"/>
<rect x="469.0" y="362.9" width="1" height="28.2" fill="#5aa37b"/>
<path d="M474.5 337.6V371.7" stroke="#0a0a0a" stroke-width="1"/>
<rect x="473.0" y="356.5" width="3" height="7.1" fill="#1d5a39"/>
<rect x="474.0" y="357.3" width="1" height="5.5" fill="#5aa37b"/>
<path d="M478.5 321.2V371.7" stroke="#0a0a0a" stroke-width="1"/>
<rect x="477.0" y="330.6" width="3" height="26.0" fill="#1d5a39"/>
<rect x="478.0" y="331.4" width="1" height="24.4" fill="#5aa37b"/>
<path d="M483.5 320.0V383.0" stroke="#0a0a0a" stroke-width="1"/>
<rect x="482.0" y="331.8" width="3" height="50.5" fill="#641a10"/>
<rect x="483.0" y="332.6" width="1" height="48.9" fill="#d9533d"/>
<path d="M488.5 354.0V398.9" stroke="#0a0a0a" stroke-width="1"/>
<rect x="487.0" y="358.6" width="3" height="11.9" fill="#1d5a39"/>
<rect x="488.0" y="359.4" width="1" height="10.3" fill="#5aa37b"/>
<path d="M493.5 349.5V371.2" stroke="#0a0a0a" stroke-width="1"/>
<rect x="492.0" y="355.3" width="3" height="4.3" fill="#1d5a39"/>
<rect x="493.0" y="356.1" width="1" height="2.7" fill="#5aa37b"/>
<path d="M497.5 344.4V396.9" stroke="#0a0a0a" stroke-width="1"/>
<rect x="496.0" y="355.3" width="3" height="40.4" fill="#641a10"/>
<rect x="497.0" y="356.1" width="1" height="38.8" fill="#d9533d"/>
<path d="M502.5 343.9V396.9" stroke="#0a0a0a" stroke-width="1"/>
<rect x="501.0" y="351.5" width="3" height="44.2" fill="#1d5a39"/>
<rect x="502.0" y="352.3" width="1" height="42.6" fill="#5aa37b"/>
<path d="M507.5 338.1V366.6" stroke="#0a0a0a" stroke-width="1"/>
<rect x="506.0" y="352.3" width="3" height="7.3" fill="#641a10"/>
<rect x="507.0" y="353.1" width="1" height="5.7" fill="#d9533d"/>
<path d="M512.5 349.0V379.8" stroke="#0a0a0a" stroke-width="1"/>
<rect x="511.0" y="361.1" width="3" height="4.3" fill="#641a10"/>
<rect x="512.0" y="361.9" width="1" height="2.7" fill="#d9533d"/>
<path d="M516.5 342.2V395.7" stroke="#0a0a0a" stroke-width="1"/>
<rect x="515.0" y="366.1" width="3" height="24.5" fill="#641a10"/>
<rect x="516.0" y="366.9" width="1" height="22.9" fill="#d9533d"/>
<path d="M521.5 372.9V395.7" stroke="#0a0a0a" stroke-width="1"/>
<rect x="520.0" y="389.3" width="3" height="4.5" fill="#641a10"/>
<rect x="521.0" y="390.1" width="1" height="2.9" fill="#d9533d"/>
<path d="M526.5 364.1V423.0" stroke="#0a0a0a" stroke-width="1"/>
<rect x="525.0" y="364.4" width="3" height="28.1" fill="#1d5a39"/>
<rect x="526.0" y="365.2" width="1" height="26.5" fill="#5aa37b"/>
<path d="M531.5 347.0V372.9" stroke="#0a0a0a" stroke-width="1"/>
<rect x="530.0" y="364.4" width="3" height="1.0" fill="#1d5a39"/>
<path d="M535.5 362.8V383.8" stroke="#0a0a0a" stroke-width="1"/>
<rect x="534.0" y="364.1" width="3" height="16.4" fill="#641a10"/>
<rect x="535.0" y="364.9" width="1" height="14.8" fill="#d9533d"/>
<path d="M540.5 367.4V412.6" stroke="#0a0a0a" stroke-width="1"/>
<rect x="539.0" y="380.5" width="3" height="22.7" fill="#641a10"/>
<rect x="540.0" y="381.3" width="1" height="21.1" fill="#d9533d"/>
<path d="M545.5 397.5V432.5" stroke="#0a0a0a" stroke-width="1"/>
<rect x="544.0" y="403.3" width="3" height="6.2" fill="#641a10"/>
<rect x="545.0" y="404.1" width="1" height="4.7" fill="#d9533d"/>
<path d="M550.5 405.2V445.0" stroke="#0a0a0a" stroke-width="1"/>
<rect x="549.0" y="412.1" width="3" height="31.7" fill="#641a10"/>
<rect x="550.0" y="412.9" width="1" height="30.1" fill="#d9533d"/>
<path d="M555.5 401.0V448.5" stroke="#0a0a0a" stroke-width="1"/>
<rect x="554.0" y="430.2" width="3" height="14.2" fill="#1d5a39"/>
<rect x="555.0" y="431.0" width="1" height="12.6" fill="#5aa37b"/>
<path d="M559.5 408.3V428.8" stroke="#0a0a0a" stroke-width="1"/>
<rect x="558.0" y="421.5" width="3" height="5.2" fill="#641a10"/>
<rect x="559.0" y="422.3" width="1" height="3.6" fill="#d9533d"/>
<path d="M564.5 412.7V447.5" stroke="#0a0a0a" stroke-width="1"/>
<rect x="563.0" y="427.3" width="3" height="16.0" fill="#641a10"/>
<rect x="564.0" y="428.1" width="1" height="14.4" fill="#d9533d"/>
<path d="M569.5 437.5V461.7" stroke="#0a0a0a" stroke-width="1"/>
<rect x="568.0" y="443.3" width="3" height="10.8" fill="#641a10"/>
<rect x="569.0" y="444.1" width="1" height="9.2" fill="#d9533d"/>
<path d="M574.5 444.4V479.8" stroke="#0a0a0a" stroke-width="1"/>
<rect x="573.0" y="453.3" width="3" height="2.1" fill="#1d5a39"/>
<path d="M578.5 427.3V466.7" stroke="#0a0a0a" stroke-width="1"/>
<rect x="577.0" y="433.3" width="3" height="22.1" fill="#1d5a39"/>
<rect x="578.0" y="434.1" width="1" height="20.5" fill="#5aa37b"/>
<path d="M583.5 412.1V448.5" stroke="#0a0a0a" stroke-width="1"/>
<rect x="582.0" y="429.2" width="3" height="5.4" fill="#1d5a39"/>
<rect x="583.0" y="430.0" width="1" height="3.8" fill="#5aa37b"/>
<path d="M588.5 412.1V432.9" stroke="#0a0a0a" stroke-width="1"/>
<rect x="587.0" y="423.1" width="3" height="9.4" fill="#1d5a39"/>
<rect x="588.0" y="423.9" width="1" height="7.8" fill="#5aa37b"/>
<path d="M593.5 405.2V440.6" stroke="#0a0a0a" stroke-width="1"/>
<rect x="592.0" y="423.1" width="3" height="17.5" fill="#641a10"/>
<rect x="593.0" y="423.9" width="1" height="15.9" fill="#d9533d"/>
<path d="M597.5 418.3V462.5" stroke="#0a0a0a" stroke-width="1"/>
<rect x="596.0" y="441.2" width="3" height="7.3" fill="#641a10"/>
<rect x="597.0" y="442.1" width="1" height="5.7" fill="#d9533d"/>
<path d="M602.5 405.2V449.6" stroke="#0a0a0a" stroke-width="1"/>
<rect x="601.0" y="422.1" width="3" height="27.1" fill="#1d5a39"/>
<rect x="602.0" y="422.9" width="1" height="25.5" fill="#5aa37b"/>
<path d="M607.5 417.7V444.8" stroke="#0a0a0a" stroke-width="1"/>
<rect x="606.0" y="422.5" width="3" height="2.1" fill="#1d5a39"/>
<path d="M612.5 399.2V423.5" stroke="#0a0a0a" stroke-width="1"/>
<rect x="611.0" y="410.4" width="3" height="13.1" fill="#1d5a39"/>
<rect x="612.0" y="411.2" width="1" height="11.5" fill="#5aa37b"/>
<path d="M616.5 362.1V409.6" stroke="#0a0a0a" stroke-width="1"/>
<rect x="615.0" y="365.2" width="3" height="44.4" fill="#1d5a39"/>
<rect x="616.0" y="366.0" width="1" height="42.8" fill="#5aa37b"/>
<path d="M621.5 354.2V373.5" stroke="#0a0a0a" stroke-width="1"/>
<rect x="620.0" y="360.6" width="3" height="9.8" fill="#1d5a39"/>
<rect x="621.0" y="361.4" width="1" height="8.2" fill="#5aa37b"/>
<path d="M626.5 354.2V376.7" stroke="#0a0a0a" stroke-width="1"/>
<rect x="625.0" y="361.0" width="3" height="9.4" fill="#641a10"/>
<rect x="626.0" y="361.8" width="1" height="7.8" fill="#d9533d"/>
<path d="M631.5 362.1V385.6" stroke="#0a0a0a" stroke-width="1"/>
<rect x="630.0" y="370.0" width="3" height="1.7" fill="#1d5a39"/>
<path d="M635.5 318.3V372.5" stroke="#0a0a0a" stroke-width="1"/>
<rect x="634.0" y="328.3" width="3" height="43.8" fill="#1d5a39"/>
<rect x="635.0" y="329.1" width="1" height="42.1" fill="#5aa37b"/>
<path d="M640.5 324.2V343.3" stroke="#0a0a0a" stroke-width="1"/>
<rect x="639.0" y="330.8" width="3" height="1.0" fill="#1d5a39"/>
<path d="M645.5 313.1V350.6" stroke="#0a0a0a" stroke-width="1"/>
<rect x="644.0" y="331.9" width="3" height="12.5" fill="#641a10"/>
<rect x="645.0" y="332.7" width="1" height="10.9" fill="#d9533d"/>
<path d="M650.5 338.1V365.8" stroke="#0a0a0a" stroke-width="1"/>
<rect x="649.0" y="344.4" width="3" height="14.0" fill="#641a10"/>
<rect x="650.0" y="345.2" width="1" height="12.4" fill="#d9533d"/>
<path d="M654.5 347.5V371.5" stroke="#0a0a0a" stroke-width="1"/>
<rect x="653.0" y="349.2" width="3" height="21.2" fill="#641a10"/>
<rect x="654.0" y="350.0" width="1" height="19.6" fill="#d9533d"/>
<path d="M659.5 350.6V374.6" stroke="#0a0a0a" stroke-width="1"/>
<rect x="658.0" y="352.1" width="3" height="18.3" fill="#1d5a39"/>
<rect x="659.0" y="352.9" width="1" height="16.7" fill="#5aa37b"/>
<path d="M664.5 329.2V356.2" stroke="#0a0a0a" stroke-width="1"/>
<rect x="663.0" y="340.2" width="3" height="12.5" fill="#1d5a39"/>
<rect x="664.0" y="341.0" width="1" height="10.9" fill="#5aa37b"/>
<path d="M669.5 322.1V390.8" stroke="#0a0a0a" stroke-width="1"/>
<rect x="668.0" y="341.2" width="3" height="44.8" fill="#641a10"/>
<rect x="669.0" y="342.1" width="1" height="43.2" fill="#d9533d"/>
<path d="M673.5 355.4V385.4" stroke="#0a0a0a" stroke-width="1"/>
<rect x="672.0" y="362.1" width="3" height="23.3" fill="#1d5a39"/>
<rect x="673.0" y="362.9" width="1" height="21.7" fill="#5aa37b"/>
<path d="M678.5 339.2V376.2" stroke="#0a0a0a" stroke-width="1"/>
<rect x="677.0" y="351.2" width="3" height="10.8" fill="#1d5a39"/>
<rect x="678.0" y="352.1" width="1" height="9.2" fill="#5aa37b"/>
<path d="M683.5 350.6V393.8" stroke="#0a0a0a" stroke-width="1"/>
<rect x="682.0" y="351.2" width="3" height="37.9" fill="#641a10"/>
<rect x="683.0" y="352.1" width="1" height="36.3" fill="#d9533d"/>
<path d="M688.5 370.4V407.9" stroke="#0a0a0a" stroke-width="1"/>
<rect x="687.0" y="376.2" width="3" height="29.6" fill="#641a10"/>
<rect x="688.0" y="377.1" width="1" height="28.0" fill="#d9533d"/>
<path d="M692.5 397.9V414.2" stroke="#0a0a0a" stroke-width="1"/>
<rect x="691.0" y="406.9" width="3" height="1.0" fill="#1d5a39"/>
<path d="M697.5 384.0V421.5" stroke="#0a0a0a" stroke-width="1"/>
<rect x="696.0" y="391.2" width="3" height="15.6" fill="#1d5a39"/>
<rect x="697.0" y="392.1" width="1" height="14.0" fill="#5aa37b"/>
<path d="M702.5 384.0V410.6" stroke="#0a0a0a" stroke-width="1"/>
<rect x="701.0" y="402.1" width="3" height="5.4" fill="#1d5a39"/>
<rect x="702.0" y="402.9" width="1" height="3.8" fill="#5aa37b"/>
<path d="M707.5 399.0V426.7" stroke="#0a0a0a" stroke-width="1"/>
<rect x="706.0" y="403.1" width="3" height="20.4" fill="#641a10"/>
<rect x="707.0" y="403.9" width="1" height="18.8" fill="#d9533d"/>
<path d="M711.5 410.0V441.7" stroke="#0a0a0a" stroke-width="1"/>
<rect x="710.0" y="426.2" width="3" height="15.0" fill="#641a10"/>
<rect x="711.0" y="427.1" width="1" height="13.4" fill="#d9533d"/>
<path d="M716.5 414.2V445.4" stroke="#0a0a0a" stroke-width="1"/>
<rect x="715.0" y="441.2" width="3" height="4.2" fill="#641a10"/>
<rect x="716.0" y="442.1" width="1" height="2.6" fill="#d9533d"/>
<path d="M721.5 430.2V447.9" stroke="#0a0a0a" stroke-width="1"/>
<rect x="720.0" y="443.3" width="3" height="2.5" fill="#1d5a39"/>
<rect x="721.0" y="444.1" width="1" height="0.9" fill="#5aa37b"/>
<path d="M726.5 438.1V462.7" stroke="#0a0a0a" stroke-width="1"/>
<rect x="725.0" y="444.4" width="3" height="9.8" fill="#641a10"/>
<rect x="726.0" y="445.2" width="1" height="8.2" fill="#d9533d"/>
<path d="M730.5 447.5V473.5" stroke="#0a0a0a" stroke-width="1"/>
<rect x="729.0" y="454.4" width="3" height="9.8" fill="#641a10"/>
<rect x="730.0" y="455.2" width="1" height="8.2" fill="#d9533d"/>
<path d="M735.5 455.2V482.3" stroke="#0a0a0a" stroke-width="1"/>
<rect x="734.0" y="465.2" width="3" height="17.1" fill="#641a10"/>
<rect x="735.0" y="466.0" width="1" height="15.5" fill="#d9533d"/>
<path d="M740.5 461.0V494.8" stroke="#0a0a0a" stroke-width="1"/>
<rect x="739.0" y="482.3" width="3" height="5.2" fill="#641a10"/>
<rect x="740.0" y="483.1" width="1" height="3.6" fill="#d9533d"/>
<path d="M745.5 473.5V490.8" stroke="#0a0a0a" stroke-width="1"/>
<rect x="744.0" y="486.7" width="3" height="1.0" fill="#1d5a39"/>
<path d="M749.5 470.4V494.8" stroke="#0a0a0a" stroke-width="1"/>
<rect x="748.0" y="477.3" width="3" height="10.2" fill="#1d5a39"/>
<rect x="749.0" y="478.1" width="1" height="8.6" fill="#5aa37b"/>
<path d="M754.5 459.0V486.0" stroke="#0a0a0a" stroke-width="1"/>
<rect x="753.0" y="472.5" width="3" height="5.8" fill="#1d5a39"/>
<rect x="754.0" y="473.3" width="1" height="4.2" fill="#5aa37b"/>
<path d="M759.5 430.8V473.5" stroke="#0a0a0a" stroke-width="1"/>
<rect x="758.0" y="440.2" width="3" height="33.3" fill="#1d5a39"/>
<rect x="759.0" y="441.0" width="1" height="31.7" fill="#5aa37b"/>
<path d="M764.5 426.2V445.8" stroke="#0a0a0a" stroke-width="1"/>
<rect x="763.0" y="437.1" width="3" height="2.7" fill="#1d5a39"/>
<rect x="764.0" y="437.9" width="1" height="1.1" fill="#5aa37b"/>
<path d="M769.5 427.1V460.6" stroke="#0a0a0a" stroke-width="1"/>
<rect x="768.0" y="437.5" width="3" height="3.8" fill="#641a10"/>
<rect x="769.0" y="438.3" width="1" height="2.1" fill="#d9533d"/>
<path d="M773.5 421.0V443.8" stroke="#0a0a0a" stroke-width="1"/>
<rect x="772.0" y="431.2" width="3" height="10.0" fill="#1d5a39"/>
<rect x="773.0" y="432.1" width="1" height="8.4" fill="#5aa37b"/>
<path d="M778.5 399.0V440.8" stroke="#0a0a0a" stroke-width="1"/>
<rect x="777.0" y="401.2" width="3" height="32.3" fill="#1d5a39"/>
<rect x="778.0" y="402.1" width="1" height="30.7" fill="#5aa37b"/>
<path d="M783.5 380.2V404.8" stroke="#0a0a0a" stroke-width="1"/>
<rect x="782.0" y="392.3" width="3" height="9.4" fill="#1d5a39"/>
<rect x="783.0" y="393.1" width="1" height="7.8" fill="#5aa37b"/>
<path d="M788.5 381.9V397.5" stroke="#0a0a0a" stroke-width="1"/>
<rect x="787.0" y="392.3" width="3" height="4.2" fill="#641a10"/>
<rect x="788.0" y="393.1" width="1" height="2.6" fill="#d9533d"/>
<path d="M792.5 372.9V405.8" stroke="#0a0a0a" stroke-width="1"/>
<rect x="791.0" y="396.5" width="3" height="1.0" fill="#1d5a39"/>
<path d="M797.5 385.0V401.7" stroke="#0a0a0a" stroke-width="1"/>
<rect x="796.0" y="396.5" width="3" height="3.1" fill="#641a10"/>
<rect x="797.0" y="397.3" width="1" height="1.5" fill="#d9533d"/>
<path d="M802.5 398.1V421.5" stroke="#0a0a0a" stroke-width="1"/>
<rect x="801.0" y="399.2" width="3" height="22.3" fill="#641a10"/>
<rect x="802.0" y="400.0" width="1" height="20.7" fill="#d9533d"/>
<path d="M807.5 415.2V440.2" stroke="#0a0a0a" stroke-width="1"/>
<rect x="806.0" y="422.1" width="3" height="16.7" fill="#641a10"/>
<rect x="807.0" y="422.9" width="1" height="15.1" fill="#d9533d"/>
<path d="M811.5 425.2V438.8" stroke="#0a0a0a" stroke-width="1"/>
<rect x="810.0" y="432.3" width="3" height="5.8" fill="#1d5a39"/>
<rect x="811.0" y="433.1" width="1" height="4.2" fill="#5aa37b"/>
<path d="M816.5 414.2V436.0" stroke="#0a0a0a" stroke-width="1"/>
<rect x="815.0" y="433.3" width="3" height="1.0" fill="#641a10"/>
<path d="M821.5 412.1V437.5" stroke="#0a0a0a" stroke-width="1"/>
<rect x="820.0" y="427.3" width="3" height="6.0" fill="#1d5a39"/>
<rect x="821.0" y="428.1" width="1" height="4.4" fill="#5aa37b"/>
<path d="M826.5 424.2V453.8" stroke="#0a0a0a" stroke-width="1"/>
<rect x="825.0" y="427.3" width="3" height="16.0" fill="#641a10"/>
<rect x="826.0" y="428.1" width="1" height="14.4" fill="#d9533d"/>
<path d="M830.5 439.2V456.9" stroke="#0a0a0a" stroke-width="1"/>
<rect x="829.0" y="445.0" width="3" height="8.3" fill="#641a10"/>
<rect x="830.0" y="445.8" width="1" height="6.7" fill="#d9533d"/>
<path d="M835.5 444.4V465.8" stroke="#0a0a0a" stroke-width="1"/>
<rect x="834.0" y="449.6" width="3" height="3.8" fill="#1d5a39"/>
<rect x="835.0" y="450.4" width="1" height="2.1" fill="#5aa37b"/>
<path d="M840.5 413.1V449.6" stroke="#0a0a0a" stroke-width="1"/>
<rect x="839.0" y="425.6" width="3" height="24.0" fill="#1d5a39"/>
<rect x="840.0" y="426.4" width="1" height="22.4" fill="#5aa37b"/>
<path d="M845.5 405.8V427.1" stroke="#0a0a0a" stroke-width="1"/>
<rect x="844.0" y="407.5" width="3" height="18.1" fill="#1d5a39"/>
<rect x="845.0" y="408.3" width="1" height="16.5" fill="#5aa37b"/>
<path d="M849.5 401.0V413.8" stroke="#0a0a0a" stroke-width="1"/>
<rect x="848.0" y="408.3" width="3" height="4.4" fill="#641a10"/>
<rect x="849.0" y="409.1" width="1" height="2.8" fill="#d9533d"/>
<path d="M854.5 383.3V417.3" stroke="#0a0a0a" stroke-width="1"/>
<rect x="853.0" y="410.4" width="3" height="3.3" fill="#641a10"/>
<rect x="854.0" y="411.2" width="1" height="1.7" fill="#d9533d"/>
<path d="M859.5 410.6V441.7" stroke="#0a0a0a" stroke-width="1"/>
<rect x="858.0" y="411.7" width="3" height="20.6" fill="#641a10"/>
<rect x="859.0" y="412.5" width="1" height="19.0" fill="#d9533d"/>
<path d="M864.5 415.2V434.0" stroke="#0a0a0a" stroke-width="1"/>
<rect x="863.0" y="422.1" width="3" height="11.5" fill="#1d5a39"/>
<rect x="864.0" y="422.9" width="1" height="9.9" fill="#5aa37b"/>
<path d="M868.5 419.0V439.6" stroke="#0a0a0a" stroke-width="1"/>
<rect x="867.0" y="422.1" width="3" height="17.1" fill="#641a10"/>
<rect x="868.0" y="422.9" width="1" height="15.5" fill="#d9533d"/>
<path d="M873.5 437.1V468.3" stroke="#0a0a0a" stroke-width="1"/>
<rect x="872.0" y="439.2" width="3" height="28.8" fill="#641a10"/>
<rect x="873.0" y="440.0" width="1" height="27.1" fill="#d9533d"/>
<path d="M878.5 460.0V516.7" stroke="#0a0a0a" stroke-width="1"/>
<rect x="877.0" y="467.9" width="3" height="45.8" fill="#641a10"/>
<rect x="878.0" y="468.7" width="1" height="44.2" fill="#d9533d"/>
<path d="M883.5 505.4V544.4" stroke="#0a0a0a" stroke-width="1"/>
<rect x="882.0" y="512.5" width="3" height="20.0" fill="#641a10"/>
<rect x="883.0" y="513.3" width="1" height="18.4" fill="#d9533d"/>
<path d="M887.5 503.8V565.2" stroke="#0a0a0a" stroke-width="1"/>
<rect x="886.0" y="531.2" width="3" height="31.2" fill="#641a10"/>
<rect x="887.0" y="532.0" width="1" height="29.6" fill="#d9533d"/>
<path d="M892.5 559.4V602.7" stroke="#0a0a0a" stroke-width="1"/>
<rect x="891.0" y="562.1" width="3" height="39.6" fill="#641a10"/>
<rect x="892.0" y="562.9" width="1" height="38.0" fill="#d9533d"/>
<path d="M897.5 590.2V623.5" stroke="#0a0a0a" stroke-width="1"/>
<rect x="896.0" y="600.2" width="3" height="10.4" fill="#641a10"/>
<rect x="897.0" y="601.0" width="1" height="8.8" fill="#d9533d"/>
<path d="M902.5 595.0V621.5" stroke="#0a0a0a" stroke-width="1"/>
<rect x="901.0" y="610.4" width="3" height="3.3" fill="#641a10"/>
<rect x="902.0" y="611.2" width="1" height="1.7" fill="#d9533d"/>
<path d="M906.5 598.1V628.3" stroke="#0a0a0a" stroke-width="1"/>
<rect x="905.0" y="610.0" width="3" height="5.6" fill="#641a10"/>
<rect x="906.0" y="610.8" width="1" height="4.0" fill="#d9533d"/>
<path d="M911.5 587.1V632.9" stroke="#0a0a0a" stroke-width="1"/>
<rect x="910.0" y="592.3" width="3" height="23.3" fill="#1d5a39"/>
<rect x="911.0" y="593.1" width="1" height="21.7" fill="#5aa37b"/>
<path d="M916.5 534.0V573.1" stroke="#0a0a0a" stroke-width="1"/>
<rect x="915.0" y="538.1" width="3" height="32.7" fill="#1d5a39"/>
<rect x="916.0" y="538.9" width="1" height="31.1" fill="#5aa37b"/>
<path d="M921.5 530.2V553.1" stroke="#0a0a0a" stroke-width="1"/>
<rect x="920.0" y="539.2" width="3" height="1.5" fill="#641a10"/>
<path d="M925.5 509.4V542.9" stroke="#0a0a0a" stroke-width="1"/>
<rect x="924.0" y="514.2" width="3" height="28.1" fill="#1d5a39"/>
<rect x="925.0" y="515.0" width="1" height="26.5" fill="#5aa37b"/>
<path d="M930.5 495.0V525.6" stroke="#0a0a0a" stroke-width="1"/>
<rect x="929.0" y="514.2" width="3" height="10.4" fill="#641a10"/>
<rect x="930.0" y="515.0" width="1" height="8.8" fill="#d9533d"/>
<path d="M935.5 412.1V526.7" stroke="#0a0a0a" stroke-width="1"/>
<rect x="934.0" y="414.2" width="3" height="112.1" fill="#1d5a39"/>
<rect x="935.0" y="415.0" width="1" height="110.5" fill="#5aa37b"/>
<path d="M940.5 411.0V452.7" stroke="#0a0a0a" stroke-width="1"/>
<rect x="939.0" y="417.3" width="3" height="14.6" fill="#641a10"/>
<rect x="940.0" y="418.1" width="1" height="13.0" fill="#d9533d"/>
<path d="M944.5 411.0V445.0" stroke="#0a0a0a" stroke-width="1"/>
<rect x="943.0" y="426.0" width="3" height="7.3" fill="#1d5a39"/>
<rect x="944.0" y="426.8" width="1" height="5.7" fill="#5aa37b"/>
<path d="M949.5 356.2V426.7" stroke="#0a0a0a" stroke-width="1"/>
<rect x="948.0" y="383.3" width="3" height="42.7" fill="#1d5a39"/>
<rect x="949.0" y="384.1" width="1" height="41.1" fill="#5aa37b"/>
<path d="M954.5 330.8V386.5" stroke="#0a0a0a" stroke-width="1"/>
<rect x="953.0" y="336.0" width="3" height="48.5" fill="#1d5a39"/>
<rect x="954.0" y="336.8" width="1" height="46.9" fill="#5aa37b"/>
<path d="M959.5 295.8V340.2" stroke="#0a0a0a" stroke-width="1"/>
<rect x="958.0" y="323.1" width="3" height="12.9" fill="#1d5a39"/>
<rect x="959.0" y="323.9" width="1" height="11.3" fill="#5aa37b"/>
<path d="M963.5 320.8V353.1" stroke="#0a0a0a" stroke-width="1"/>
<rect x="962.0" y="339.2" width="3" height="12.5" fill="#1d5a39"/>
<rect x="963.0" y="340.0" width="1" height="10.9" fill="#5aa37b"/>
<path d="M968.5 324.2V371.9" stroke="#0a0a0a" stroke-width="1"/>
<rect x="967.0" y="339.2" width="3" height="4.6" fill="#641a10"/>
<rect x="968.0" y="340.0" width="1" height="3.0" fill="#d9533d"/>
<path d="M973.5 313.1V355.8" stroke="#0a0a0a" stroke-width="1"/>
<rect x="972.0" y="327.3" width="3" height="15.4" fill="#1d5a39"/>
<rect x="973.0" y="328.1" width="1" height="13.8" fill="#5aa37b"/>
<path d="M978.5 302.7V340.2" stroke="#0a0a0a" stroke-width="1"/>
<rect x="977.0" y="318.3" width="3" height="7.3" fill="#1d5a39"/>
<rect x="978.0" y="319.1" width="1" height="5.7" fill="#5aa37b"/>
<path d="M983.5 275.0V330.8" stroke="#0a0a0a" stroke-width="1"/>
<rect x="982.0" y="280.8" width="3" height="37.9" fill="#1d5a39"/>
<rect x="983.0" y="281.6" width="1" height="36.3" fill="#5aa37b"/>
<path d="M987.5 280.2V306.9" stroke="#0a0a0a" stroke-width="1"/>
<rect x="986.0" y="280.8" width="3" height="17.7" fill="#641a10"/>
<rect x="987.0" y="281.6" width="1" height="16.1" fill="#d9533d"/>
<path d="M992.5 278.1V328.1" stroke="#0a0a0a" stroke-width="1"/>
<rect x="991.0" y="299.0" width="3" height="20.8" fill="#641a10"/>
<rect x="992.0" y="299.8" width="1" height="19.2" fill="#d9533d"/>
<path d="M997.5 303.8V344.0" stroke="#0a0a0a" stroke-width="1"/>
<rect x="996.0" y="319.4" width="3" height="2.3" fill="#641a10"/>
<rect x="997.0" y="320.2" width="1" height="0.7" fill="#d9533d"/>
<path d="M1002.5 309.0V324.2" stroke="#0a0a0a" stroke-width="1"/>
<rect x="1001.0" y="315.8" width="3" height="6.7" fill="#1d5a39"/>
<rect x="1002.0" y="316.6" width="1" height="5.1" fill="#5aa37b"/>
<path d="M1006.5 284.0V320.4" stroke="#0a0a0a" stroke-width="1"/>
<rect x="1005.0" y="303.8" width="3" height="12.9" fill="#1d5a39"/>
<rect x="1006.0" y="304.6" width="1" height="11.3" fill="#5aa37b"/>
<path d="M1011.5 303.1V330.8" stroke="#0a0a0a" stroke-width="1"/>
<rect x="1010.0" y="307.3" width="3" height="23.5" fill="#641a10"/>
<rect x="1011.0" y="308.1" width="1" height="21.9" fill="#d9533d"/>
<path d="M1016.5 328.8V366.7" stroke="#0a0a0a" stroke-width="1"/>
<rect x="1015.0" y="330.4" width="3" height="15.0" fill="#641a10"/>
<rect x="1016.0" y="331.2" width="1" height="13.4" fill="#d9533d"/>
<path d="M1021.5 342.3V382.9" stroke="#0a0a0a" stroke-width="1"/>
<rect x="1020.0" y="346.5" width="3" height="32.3" fill="#641a10"/>
<rect x="1021.0" y="347.3" width="1" height="30.7" fill="#d9533d"/>
<path d="M1025.5 351.0V387.7" stroke="#0a0a0a" stroke-width="1"/>
<rect x="1024.0" y="363.1" width="3" height="16.2" fill="#1d5a39"/>
<rect x="1025.0" y="363.9" width="1" height="14.7" fill="#5aa37b"/>
<path d="M1030.5 359.4V407.9" stroke="#0a0a0a" stroke-width="1"/>
<rect x="1029.0" y="363.1" width="3" height="36.5" fill="#641a10"/>
<rect x="1030.0" y="363.9" width="1" height="34.9" fill="#d9533d"/>
<path d="M1035.5 379.8V410.6" stroke="#0a0a0a" stroke-width="1"/>
<rect x="1034.0" y="385.4" width="3" height="14.2" fill="#1d5a39"/>
<rect x="1035.0" y="386.2" width="1" height="12.6" fill="#5aa37b"/>
<path d="M1040.5 341.9V388.8" stroke="#0a0a0a" stroke-width="1"/>
<rect x="1039.0" y="355.2" width="3" height="30.2" fill="#1d5a39"/>
<rect x="1040.0" y="356.0" width="1" height="28.6" fill="#5aa37b"/>
<path d="M1044.5 334.0V369.0" stroke="#0a0a0a" stroke-width="1"/>
<rect x="1043.0" y="357.3" width="3" height="5.2" fill="#641a10"/>
<rect x="1044.0" y="358.1" width="1" height="3.6" fill="#d9533d"/>
<path d="M1049.5 312.1V366.9" stroke="#0a0a0a" stroke-width="1"/>
<rect x="1048.0" y="324.2" width="3" height="37.5" fill="#1d5a39"/>
<rect x="1049.0" y="325.0" width="1" height="35.9" fill="#5aa37b"/>
<path d="M1054.5 303.1V327.7" stroke="#0a0a0a" stroke-width="1"/>
<rect x="1053.0" y="325.0" width="3" height="1.2" fill="#1d5a39"/>
<path d="M1059.5 316.7V350.6" stroke="#0a0a0a" stroke-width="1"/>
<rect x="1058.0" y="328.8" width="3" height="2.1" fill="#641a10"/>
<path d="M1063.5 278.1V331.9" stroke="#0a0a0a" stroke-width="1"/>
<rect x="1062.0" y="294.4" width="3" height="36.5" fill="#1d5a39"/>
<rect x="1063.0" y="295.2" width="1" height="34.9" fill="#5aa37b"/>
<path d="M1068.5 280.8V313.8" stroke="#0a0a0a" stroke-width="1"/>
<rect x="1067.0" y="294.4" width="3" height="15.2" fill="#641a10"/>
<rect x="1068.0" y="295.2" width="1" height="13.6" fill="#d9533d"/>
<path d="M1073.5 294.4V312.1" stroke="#0a0a0a" stroke-width="1"/>
<rect x="1072.0" y="305.2" width="3" height="6.5" fill="#1d5a39"/>
<rect x="1073.0" y="306.0" width="1" height="4.9" fill="#5aa37b"/>
<path d="M1078.5 285.0V306.2" stroke="#0a0a0a" stroke-width="1"/>
<rect x="1077.0" y="288.1" width="3" height="16.7" fill="#1d5a39"/>
<rect x="1078.0" y="288.9" width="1" height="15.1" fill="#5aa37b"/>
<path d="M1082.5 260.2V290.4" stroke="#0a0a0a" stroke-width="1"/>
<rect x="1081.0" y="267.4" width="3" height="21.9" fill="#1d5a39"/>
<rect x="1082.0" y="268.2" width="1" height="20.3" fill="#5aa37b"/>
<path d="M1087.5 218.0V270.7" stroke="#0a0a0a" stroke-width="1"/>
<rect x="1086.0" y="222.0" width="3" height="46.5" fill="#1d5a39"/>
<rect x="1087.0" y="222.8" width="1" height="44.9" fill="#5aa37b"/>
<path d="M1092.5 203.3V230.5" stroke="#0a0a0a" stroke-width="1"/>
<rect x="1091.0" y="217.4" width="3" height="5.5" fill="#1d5a39"/>
<rect x="1092.0" y="218.2" width="1" height="3.9" fill="#5aa37b"/>
<path d="M1097.5 211.0V238.9" stroke="#0a0a0a" stroke-width="1"/>
<rect x="1096.0" y="215.2" width="3" height="15.4" fill="#641a10"/>
<rect x="1097.0" y="216.0" width="1" height="13.8" fill="#d9533d"/>
<path d="M1101.5 163.6V233.4" stroke="#0a0a0a" stroke-width="1"/>
<rect x="1100.0" y="169.7" width="3" height="59.2" fill="#1d5a39"/>
<rect x="1101.0" y="170.5" width="1" height="57.6" fill="#5aa37b"/>
<path d="M1106.5 67.0V256.9" stroke="#0a0a0a" stroke-width="1"/>
<rect x="1105.0" y="169.3" width="3" height="73.3" fill="#641a10"/>
<rect x="1106.0" y="170.1" width="1" height="71.7" fill="#d9533d"/>
<path d="M1111.5 220.9V274.6" stroke="#0a0a0a" stroke-width="1"/>
<rect x="1110.0" y="241.5" width="3" height="17.1" fill="#641a10"/>
<rect x="1111.0" y="242.3" width="1" height="15.5" fill="#d9533d"/>
<path d="M1116.5 230.1V261.9" stroke="#0a0a0a" stroke-width="1"/>
<rect x="1115.0" y="248.1" width="3" height="11.0" fill="#1d5a39"/>
<rect x="1116.0" y="248.9" width="1" height="9.4" fill="#5aa37b"/>
<path d="M1120.5 224.6V256.9" stroke="#0a0a0a" stroke-width="1"/>
<rect x="1119.0" y="243.3" width="3" height="5.5" fill="#1d5a39"/>
<rect x="1120.0" y="244.1" width="1" height="3.9" fill="#5aa37b"/>
<path d="M1125.5 234.0V301.0" stroke="#0a0a0a" stroke-width="1"/>
<rect x="1124.0" y="243.3" width="3" height="41.0" fill="#641a10"/>
<rect x="1125.0" y="244.1" width="1" height="39.4" fill="#d9533d"/>
<path d="M1130.5 278.4V333.2" stroke="#0a0a0a" stroke-width="1"/>
<rect x="1129.0" y="285.4" width="3" height="38.6" fill="#641a10"/>
<rect x="1130.0" y="286.2" width="1" height="37.0" fill="#d9533d"/>
<path d="M1135.5 297.0V331.0" stroke="#0a0a0a" stroke-width="1"/>
<rect x="1134.0" y="322.3" width="3" height="5.5" fill="#641a10"/>
<rect x="1135.0" y="323.1" width="1" height="3.9" fill="#d9533d"/>
<path d="M1139.5 244.4V337.6" stroke="#0a0a0a" stroke-width="1"/>
<rect x="1138.0" y="245.0" width="3" height="82.3" fill="#1d5a39"/>
<rect x="1139.0" y="245.8" width="1" height="80.7" fill="#5aa37b"/>
<path d="M1144.5 210.3V249.8" stroke="#0a0a0a" stroke-width="1"/>
<rect x="1143.0" y="230.1" width="3" height="17.6" fill="#1d5a39"/>
<rect x="1144.0" y="230.9" width="1" height="16.0" fill="#5aa37b"/>
<path d="M1149.5 214.7V264.5" stroke="#0a0a0a" stroke-width="1"/>
<rect x="1148.0" y="230.5" width="3" height="28.1" fill="#641a10"/>
<rect x="1149.0" y="231.3" width="1" height="26.5" fill="#d9533d"/>
<path d="M1154.5 234.0V263.7" stroke="#0a0a0a" stroke-width="1"/>
<rect x="1153.0" y="245.0" width="3" height="13.6" fill="#1d5a39"/>
<rect x="1154.0" y="245.8" width="1" height="12.0" fill="#5aa37b"/>
<path d="M1158.5 212.1V254.2" stroke="#0a0a0a" stroke-width="1"/>
<rect x="1157.0" y="224.6" width="3" height="20.8" fill="#1d5a39"/>
<rect x="1158.0" y="225.4" width="1" height="19.2" fill="#5aa37b"/>
<text x="1353.00" y="39.34" font-size="15.2" fill="#8a8a8a" font-weight="normal" text-anchor="start" textLength="105.0" lengthAdjust="spacingAndGlyphs" >1.272 (2155.65)</text>
<text x="1097.50" y="67.14" font-size="15.2" fill="#d81b9c" font-weight="normal" text-anchor="start" textLength="104.0" lengthAdjust="spacingAndGlyphs" >1.618 (2137.05)</text>
<text x="971.00" y="78.14" font-size="15.2" fill="#3c3c3c" font-weight="normal" text-anchor="start" textLength="75.0" lengthAdjust="spacingAndGlyphs" >1 (2130.59)</text>
<text x="1097.50" y="109.14" font-size="15.2" fill="#d32f2f" font-weight="normal" text-anchor="start" textLength="104.0" lengthAdjust="spacingAndGlyphs" >1.272 (2111.14)</text>
<text x="1353.00" y="123.64" font-size="15.2" fill="#2e7d1e" font-weight="normal" text-anchor="start" textLength="105.0" lengthAdjust="spacingAndGlyphs" >0.786 (2102.60)</text>
<text x="1112.00" y="142.64" font-size="15.2" fill="#3c3c3c" font-weight="normal" text-anchor="start" textLength="74.5" lengthAdjust="spacingAndGlyphs" >1 (2090.78)</text>
<text x="1353.00" y="166.64" font-size="15.2" fill="#d32f2f" font-weight="normal" text-anchor="start" textLength="105.0" lengthAdjust="spacingAndGlyphs" >0.618 (2076.28)</text>
<text x="1368.00" y="197.64" font-size="15.2" fill="#22c322" font-weight="normal" text-anchor="start" textLength="90.0" lengthAdjust="spacingAndGlyphs" >0.5 (2057.80)</text>
<text x="1353.00" y="262.14" font-size="15.2" fill="#1e90d2" font-weight="normal" text-anchor="start" textLength="105.0" lengthAdjust="spacingAndGlyphs" >0.382 (2019.27)</text>
<text x="1353.00" y="338.14" font-size="15.2" fill="#2e7d1e" font-weight="normal" text-anchor="start" textLength="105.0" lengthAdjust="spacingAndGlyphs" >0.786 (1975.09)</text>
</g>
<rect x="1408.20" y="215.30" width="58.60" height="18.40" fill="#6a9f82" rx="2" />
<text x="1411.90" y="229.38" font-size="12.8" fill="#fff" font-weight="normal" text-anchor="start" textLength="49.2" lengthAdjust="spacingAndGlyphs" stroke="#fff" stroke-width="0.35">XAUUSD</text>
<g clip-path="url(#rsiclip)">
<line x1="14.00" y1="716.50" x2="1468.00" y2="716.50" stroke="#666872" stroke-width="1" stroke-dasharray="5.5 4.5"/>
<line x1="14.00" y1="758.50" x2="1468.00" y2="758.50" stroke="#a5a7b0" stroke-width="1" stroke-dasharray="5.5 4.5"/>
<line x1="14.00" y1="802.50" x2="1468.00" y2="802.50" stroke="#666872" stroke-width="1" stroke-dasharray="5.5 4.5"/>
<defs><linearGradient id="os" x1="0" y1="0" x2="0" y2="1"><stop offset="0" stop-color="#ffffff"/><stop offset="1" stop-color="#ffc0b0"/></linearGradient></defs>
<path d="M879.6 801.5 L882.6 806.4 L887.4 813.9 L892.2 821.7 L896.9 823.3 L901.7 823.9 L906.4 824.2 L911.2 806.7 L913.2 801.5 Z" fill="url(#os)"/>
<path d="M13.5 707.4 L17.1 713.4 L21.9 718.6 L26.7 706.2 L31.4 713.0 L36.2 710.7 L40.9 708.1 L45.7 704.3 L50.4 723.4 L55.2 724.1 L59.9 730.0 L64.7 726.7 L69.5 714.8 L74.2 748.8 L79.0 776.0 L83.7 774.2 L88.5 770.3 L93.2 769.1 L98.0 776.8 L102.7 774.2 L107.5 780.8 L112.2 779.9 L117.0 789.7 L121.8 789.1 L126.5 783.4 L131.3 784.6 L136.0 788.1 L140.8 793.8 L145.5 795.5 L150.3 801.6 L155.0 793.7 L159.8 783.1 L164.6 773.2 L169.3 774.1 L174.1 754.4 L178.8 762.6 L183.6 784.8 L188.3 784.1 L193.1 769.5 L197.8 745.1 L202.6 724.6 L207.4 731.2 L212.1 725.7 L216.9 725.3 L221.6 704.3 L226.4 711.4 L231.1 733.9 L235.9 725.1 L240.6 718.6 L245.4 727.2 L250.2 738.1 L254.9 732.5 L259.7 737.2 L264.4 731.8 L269.2 738.0 L273.9 732.6 L278.7 721.6 L283.4 721.6 L288.2 729.7 L293.0 729.2 L297.7 739.7 L302.5 734.6 L307.2 730.5 L312.0 721.8 L316.7 742.7 L321.5 747.1 L326.2 743.0 L331.0 748.8 L335.8 744.1 L340.5 756.0 L345.3 752.8 L350.0 749.2 L354.8 753.5 L359.5 754.3 L364.3 753.5 L369.0 758.2 L373.8 739.1 L378.6 729.8 L383.3 725.0 L388.1 746.7 L392.8 744.5 L397.6 738.7 L402.3 741.4 L407.1 751.0 L411.8 753.5 L416.6 750.1 L421.4 766.7 L426.1 770.6 L430.9 782.0 L435.6 769.1 L440.4 772.1 L445.1 770.0 L449.9 778.8 L454.6 786.5 L459.4 781.8 L464.2 784.0 L468.9 771.4 L473.7 769.2 L478.4 759.1 L483.2 775.6 L487.9 766.8 L492.7 765.6 L497.4 777.7 L502.2 761.9 L507.0 764.4 L511.7 766.3 L516.5 774.1 L521.2 775.1 L526.0 763.3 L530.7 763.3 L535.5 769.2 L540.2 776.8 L545.0 778.9 L549.8 789.2 L554.5 782.6 L559.3 780.8 L564.0 786.2 L568.8 789.5 L573.5 789.1 L578.3 777.7 L583.0 775.4 L587.8 771.9 L592.6 779.4 L597.3 782.6 L602.1 767.0 L606.8 767.2 L611.6 760.4 L616.3 739.2 L621.1 737.3 L625.8 743.2 L630.6 743.0 L635.4 726.0 L640.1 727.7 L644.9 736.6 L649.6 745.2 L654.4 752.3 L659.1 743.5 L663.9 738.2 L668.6 762.7 L673.4 751.8 L678.2 747.3 L682.9 764.6 L687.7 771.1 L692.4 771.5 L697.2 763.7 L701.9 768.4 L706.7 777.1 L711.4 783.6 L716.2 785.1 L721.0 783.8 L725.7 788.0 L730.5 791.8 L735.2 798.2 L740.0 799.9 L744.7 799.3 L749.5 791.7 L754.2 787.9 L759.0 765.1 L763.8 763.1 L768.5 765.6 L773.3 758.9 L778.0 741.7 L782.8 737.2 L787.5 740.3 L792.3 740.3 L797.0 742.9 L801.8 759.3 L806.6 770.1 L811.3 765.4 L816.1 766.5 L820.8 761.4 L825.6 772.1 L830.3 778.2 L835.1 775.0 L839.8 756.5 L844.6 745.0 L849.4 749.0 L854.1 749.8 L858.9 763.5 L863.6 756.1 L868.4 767.7 L873.1 783.3 L877.9 800.9 L882.6 806.4 L887.4 813.9 L892.2 821.7 L896.9 823.3 L901.7 823.9 L906.4 824.2 L911.2 806.7 L915.9 774.9 L920.7 775.9 L925.4 762.9 L930.2 767.3 L935.0 729.1 L939.7 736.5 L944.5 734.9 L949.2 724.0 L954.0 714.0 L958.7 711.6 L963.5 719.2 L968.2 721.4 L973.0 717.6 L977.8 715.5 L982.5 707.5 L987.3 716.9 L992.0 727.5 L996.8 728.4 L1001.5 726.7 L1006.3 723.2 L1011.0 737.6 L1015.8 744.7 L1020.5 759.0 L1025.3 753.0 L1030.1 766.9 L1034.8 761.3 L1039.6 750.0 L1044.3 753.0 L1049.1 739.9 L1053.8 740.3 L1058.6 743.1 L1063.3 731.1 L1068.1 738.6 L1072.9 737.1 L1077.6 731.4 L1082.4 724.9 L1087.1 713.1 L1091.9 712.0 L1096.6 719.8 L1101.4 705.9 L1106.1 739.0 L1110.9 744.8 L1115.7 741.9 L1120.4 740.5 L1125.2 755.9 L1129.9 768.3 L1134.7 769.4 L1139.4 744.2 L1144.2 740.5 L1148.9 750.0 L1153.7 746.3 L1158.5 740.8" fill="none" stroke="#7e57c2" stroke-width="2.7" stroke-linejoin="round" stroke-linecap="round"/>
</g>
<text x="23.00" y="722.01" font-size="14" fill="#4a4a4a" font-weight="normal" text-anchor="start" textLength="175.0" lengthAdjust="spacingAndGlyphs" >RSI (14, close, SMA, 14, 2)</text>
<text x="208.00" y="722.01" font-size="14" fill="#7e57c2" font-weight="normal" text-anchor="start" textLength="36.0" lengthAdjust="spacingAndGlyphs" >58.34</text>
<text x="254.50" y="720.97" font-size="15" fill="#4a4a4a" font-weight="normal" text-anchor="start" textLength="9.5" lengthAdjust="spacingAndGlyphs" >ø</text>
<text x="273.00" y="720.97" font-size="15" fill="#4a4a4a" font-weight="normal" text-anchor="start" textLength="9.5" lengthAdjust="spacingAndGlyphs" >ø</text>
<text x="338.00" y="720.97" font-size="15" fill="#4a4a4a" font-weight="normal" text-anchor="start" textLength="9.5" lengthAdjust="spacingAndGlyphs" >ø</text>
<text x="357.00" y="720.97" font-size="15" fill="#4a4a4a" font-weight="normal" text-anchor="start" textLength="9.5" lengthAdjust="spacingAndGlyphs" >ø</text>
<text x="376.00" y="720.97" font-size="15" fill="#4a4a4a" font-weight="normal" text-anchor="start" textLength="9.5" lengthAdjust="spacingAndGlyphs" >ø</text>
<text x="1477.00" y="129.17" font-size="13.6" fill="#4f4f4f" font-weight="normal" text-anchor="start" textLength="48.6" lengthAdjust="spacingAndGlyphs" >2100.00</text>
<text x="1477.00" y="195.09" font-size="13.6" fill="#4f4f4f" font-weight="normal" text-anchor="start" textLength="48.6" lengthAdjust="spacingAndGlyphs" >2060.00</text>
<text x="1477.00" y="262.31" font-size="13.6" fill="#4f4f4f" font-weight="normal" text-anchor="start" textLength="48.6" lengthAdjust="spacingAndGlyphs" >2020.00</text>
<text x="1477.00" y="329.97" font-size="13.6" fill="#4f4f4f" font-weight="normal" text-anchor="start" textLength="48.6" lengthAdjust="spacingAndGlyphs" >1980.00</text>
<text x="1477.00" y="400.84" font-size="13.6" fill="#4f4f4f" font-weight="normal" text-anchor="start" textLength="48.6" lengthAdjust="spacingAndGlyphs" >1940.00</text>
<text x="1477.00" y="436.36" font-size="13.6" fill="#4f4f4f" font-weight="normal" text-anchor="start" textLength="48.6" lengthAdjust="spacingAndGlyphs" >1920.00</text>
<text x="1477.00" y="472.25" font-size="13.6" fill="#4f4f4f" font-weight="normal" text-anchor="start" textLength="48.6" lengthAdjust="spacingAndGlyphs" >1900.00</text>
<text x="1477.00" y="508.53" font-size="13.6" fill="#4f4f4f" font-weight="normal" text-anchor="start" textLength="48.6" lengthAdjust="spacingAndGlyphs" >1880.00</text>
<text x="1477.00" y="545.19" font-size="13.6" fill="#4f4f4f" font-weight="normal" text-anchor="start" textLength="48.6" lengthAdjust="spacingAndGlyphs" >1860.00</text>
<text x="1477.00" y="582.25" font-size="13.6" fill="#4f4f4f" font-weight="normal" text-anchor="start" textLength="48.6" lengthAdjust="spacingAndGlyphs" >1840.00</text>
<text x="1477.00" y="619.72" font-size="13.6" fill="#4f4f4f" font-weight="normal" text-anchor="start" textLength="48.6" lengthAdjust="spacingAndGlyphs" >1820.00</text>
<text x="1477.00" y="657.60" font-size="13.6" fill="#4f4f4f" font-weight="normal" text-anchor="start" textLength="48.6" lengthAdjust="spacingAndGlyphs" >1800.00</text>
<text x="1477.00" y="695.90" font-size="13.6" fill="#4f4f4f" font-weight="normal" text-anchor="start" textLength="48.6" lengthAdjust="spacingAndGlyphs" >1780.00</text>
<text x="1476.90" y="741.87" font-size="13.6" fill="#4f4f4f" font-weight="normal" text-anchor="start" textLength="34.5" lengthAdjust="spacingAndGlyphs" >60.00</text>
<text x="1476.90" y="784.87" font-size="13.6" fill="#4f4f4f" font-weight="normal" text-anchor="start" textLength="34.5" lengthAdjust="spacingAndGlyphs" >40.00</text>
<text x="1476.90" y="827.87" font-size="13.6" fill="#4f4f4f" font-weight="normal" text-anchor="start" textLength="34.5" lengthAdjust="spacingAndGlyphs" >20.00</text>
<path d="M1468 144.0 H1529.5 a2.5 2.5 0 0 1 2.5 2.5 V160.2 a2.5 2.5 0 0 1 -2.5 2.5 H1468 Z" fill="#000"/>
<text x="1477.80" y="158.84" font-size="13.8" fill="#fff" font-weight="bold" text-anchor="start" textLength="48.8" lengthAdjust="spacingAndGlyphs" >2081.82</text>
<path d="M1468 164.3 H1529.5 a2.5 2.5 0 0 1 2.5 2.5 V180.5 a2.5 2.5 0 0 1 -2.5 2.5 H1468 Z" fill="#000"/>
<text x="1477.80" y="179.14" font-size="13.8" fill="#fff" font-weight="bold" text-anchor="start" textLength="48.8" lengthAdjust="spacingAndGlyphs" >2070.42</text>
<path d="M1468 194.0 H1529.5 a2.5 2.5 0 0 1 2.5 2.5 V210.2 a2.5 2.5 0 0 1 -2.5 2.5 H1468 Z" fill="#000"/>
<text x="1477.80" y="208.84" font-size="13.8" fill="#fff" font-weight="bold" text-anchor="start" textLength="48.8" lengthAdjust="spacingAndGlyphs" >2051.96</text>
<path d="M1468 322.0 H1529.5 a2.5 2.5 0 0 1 2.5 2.5 V338.2 a2.5 2.5 0 0 1 -2.5 2.5 H1468 Z" fill="#000"/>
<text x="1477.80" y="336.84" font-size="13.8" fill="#fff" font-weight="bold" text-anchor="start" textLength="48.8" lengthAdjust="spacingAndGlyphs" >1976.87</text>
<path d="M1468 352.3 H1529.5 a2.5 2.5 0 0 1 2.5 2.5 V368.5 a2.5 2.5 0 0 1 -2.5 2.5 H1468 Z" fill="#000"/>
<text x="1477.80" y="367.14" font-size="13.8" fill="#fff" font-weight="bold" text-anchor="start" textLength="48.8" lengthAdjust="spacingAndGlyphs" >1959.74</text>
<path d="M1468 215.3 H1534.6 a2.5 2.5 0 0 1 2.5 2.5 V247.4 a2.5 2.5 0 0 1 -2.5 2.5 H1468 Z" fill="#6a9f82"/>
<text x="1477.80" y="229.94" font-size="13.8" fill="#fff" font-weight="bold" text-anchor="start" textLength="48.8" lengthAdjust="spacingAndGlyphs" >2039.82</text>
<text x="1477.80" y="245.94" font-size="13.8" fill="#d6e9dd" font-weight="normal" text-anchor="start" textLength="54.0" lengthAdjust="spacingAndGlyphs" stroke="#d6e9dd" stroke-width="0.3">01:09:25</text>
<rect x="1472.80" y="39.20" width="64.00" height="32.20" fill="#fff" stroke="#e6e9f0" stroke-width="1" rx="4.5" />
<text x="1484.30" y="59.93" font-size="13.2" fill="#2a2e39" font-weight="normal" text-anchor="start" textLength="24.5" lengthAdjust="spacingAndGlyphs" >USD</text>
<text x="23.00" y="58.61" font-size="14" fill="#4a4a4a" font-weight="normal" text-anchor="start" textLength="241.0" lengthAdjust="spacingAndGlyphs" >Gold Spot / U.S. Dollar, 1D, FXOPEN</text>
<text x="273.00" y="58.61" font-size="14" fill="#4a4a4a" font-weight="normal" text-anchor="start" textLength="9.5" lengthAdjust="spacingAndGlyphs" >O</text>
<text x="282.50" y="58.61" font-size="14" fill="#2b5e41" font-weight="normal" text-anchor="start" textLength="52.0" lengthAdjust="spacingAndGlyphs" >2027.10</text>
<text x="345.00" y="58.61" font-size="14" fill="#4a4a4a" font-weight="normal" text-anchor="start" textLength="9.5" lengthAdjust="spacingAndGlyphs" >H</text>
<text x="354.50" y="58.61" font-size="14" fill="#2b5e41" font-weight="normal" text-anchor="start" textLength="52.0" lengthAdjust="spacingAndGlyphs" >2046.99</text>
<text x="417.00" y="58.61" font-size="14" fill="#4a4a4a" font-weight="normal" text-anchor="start" textLength="7.5" lengthAdjust="spacingAndGlyphs" >L</text>
<text x="424.50" y="58.61" font-size="14" fill="#2b5e41" font-weight="normal" text-anchor="start" textLength="52.0" lengthAdjust="spacingAndGlyphs" >2021.64</text>
<text x="486.00" y="58.61" font-size="14" fill="#4a4a4a" font-weight="normal" text-anchor="start" textLength="9.0" lengthAdjust="spacingAndGlyphs" >C</text>
<text x="495.00" y="58.61" font-size="14" fill="#2b5e41" font-weight="normal" text-anchor="start" textLength="52.0" lengthAdjust="spacingAndGlyphs" >2039.82</text>
<text x="556.00" y="58.61" font-size="14" fill="#2b5e41" font-weight="normal" text-anchor="start" textLength="106.0" lengthAdjust="spacingAndGlyphs" >+12.64 (+0.62%)</text>
<text x="23.00" y="79.91" font-size="14" fill="#4a4a4a" font-weight="normal" text-anchor="start" textLength="174.0" lengthAdjust="spacingAndGlyphs" >SMA (20, close, 0, SMA, 5)</text>
<text x="207.00" y="79.91" font-size="14" fill="#673ab7" font-weight="normal" text-anchor="start" textLength="51.0" lengthAdjust="spacingAndGlyphs" >2020.41</text>
<text x="23.00" y="100.91" font-size="14" fill="#4a4a4a" font-weight="normal" text-anchor="start" textLength="174.0" lengthAdjust="spacingAndGlyphs" >SMA (50, close, 0, SMA, 5)</text>
<text x="207.00" y="100.91" font-size="14" fill="#f57c00" font-weight="normal" text-anchor="start" textLength="51.0" lengthAdjust="spacingAndGlyphs" >1985.61</text>
<rect x="13.00" y="34.00" width="1530.00" height="834.00" fill="none" stroke="#e6e9f0" stroke-width="2" />
<line x1="14.00" y1="696.50" x2="1543.00" y2="696.50" stroke="#e6e9f0" stroke-width="1" />
<line x1="14.00" y1="833.50" x2="1543.00" y2="833.50" stroke="#4d4d4d" stroke-width="1" />
<line x1="1468.50" y1="35.00" x2="1468.50" y2="867.50" stroke="#4d4d4d" stroke-width="1" />
<line x1="387.00" y1="34.50" x2="1347.80" y2="34.50" stroke="#b0b0b0" stroke-width="1" />
<text x="13.00" y="24.59" font-size="14.5" fill="#131722" font-weight="normal" text-anchor="start" textLength="504.0" lengthAdjust="spacingAndGlyphs" >BrucePowersCMT published on TradingView.com, Dec 19, 2023 16:49 UTC-4</text>
<text x="69.50" y="855.30" font-size="13.4" fill="#4f4f4f" font-weight="normal" text-anchor="middle" >Feb</text>
<text x="165.50" y="855.30" font-size="13.4" fill="#4f4f4f" font-weight="normal" text-anchor="middle" >Mar</text>
<text x="274.50" y="855.30" font-size="13.4" fill="#4f4f4f" font-weight="normal" text-anchor="middle" >Apr</text>
<text x="369.50" y="855.30" font-size="13.4" fill="#4f4f4f" font-weight="normal" text-anchor="middle" >May</text>
<text x="478.50" y="855.30" font-size="13.4" fill="#4f4f4f" font-weight="normal" text-anchor="middle" >Jun</text>
<text x="583.50" y="855.30" font-size="13.4" fill="#4f4f4f" font-weight="normal" text-anchor="middle" >Jul</text>
<text x="683.50" y="855.30" font-size="13.4" fill="#4f4f4f" font-weight="normal" text-anchor="middle" >Aug</text>
<text x="792.50" y="855.30" font-size="13.4" fill="#4f4f4f" font-weight="normal" text-anchor="middle" >Sep</text>
<text x="892.50" y="855.30" font-size="13.4" fill="#4f4f4f" font-weight="normal" text-anchor="middle" >Oct</text>
<text x="997.50" y="855.30" font-size="13.4" fill="#4f4f4f" font-weight="normal" text-anchor="middle" >Nov</text>
<text x="1101.50" y="855.30" font-size="13.4" fill="#4f4f4f" font-weight="normal" text-anchor="middle" >Dec</text>
<text x="1201.50" y="855.30" font-size="13.4" fill="#333" font-weight="bold" text-anchor="middle" >2024</text>
<text x="1311.50" y="855.30" font-size="13.4" fill="#4f4f4f" font-weight="normal" text-anchor="middle" >Feb</text>
<text x="1410.50" y="855.30" font-size="13.4" fill="#4f4f4f" font-weight="normal" text-anchor="middle" >Mar</text>
<g fill="#1e222d" transform="translate(13,884)"><path d="M0 0 H9.6 V11.6 H4.8 V4.8 H0 Z"/><circle cx="13.4" cy="2.4" r="2.4"/><path d="M18.2 0 H24 L19.2 11.6 H13.4 Z"/></g>
<text x="42.80" y="895.69" font-size="17" fill="#1e222d" font-weight="normal" text-anchor="start" textLength="87.0" lengthAdjust="spacingAndGlyphs" >TradingView</text></svg></body></html>
